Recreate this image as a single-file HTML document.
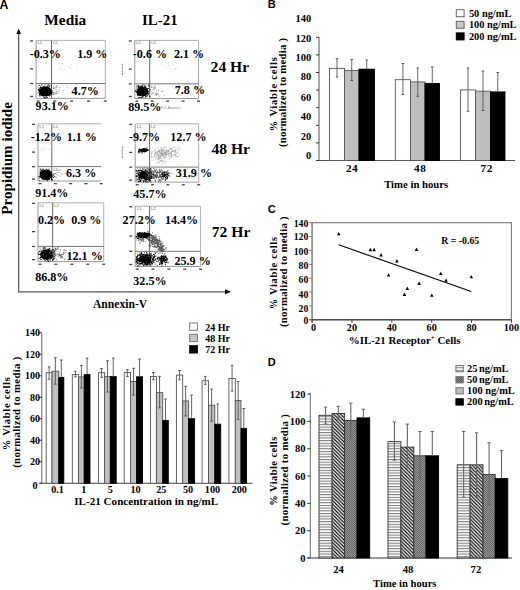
<!DOCTYPE html>
<html><head><meta charset="utf-8"><style>
html,body{margin:0;padding:0;background:#fff;}
svg{display:block;}
</style></head><body>
<svg width="520" height="590" viewBox="0 0 520 590">
<defs>
<filter id="blurS" x="-20%" y="-20%" width="140%" height="140%"><feGaussianBlur stdDeviation="0.35"/></filter>
<filter id="blur0" x="-50%" y="-50%" width="200%" height="200%"><feGaussianBlur stdDeviation="0.7"/></filter>
<filter id="blur2" x="-50%" y="-50%" width="200%" height="200%"><feGaussianBlur stdDeviation="2.2"/></filter>
<pattern id="hstripe" width="4" height="2.7" patternUnits="userSpaceOnUse"><rect width="4" height="2.7" fill="#fff"/><rect y="0" width="4" height="1.1" fill="#808080"/></pattern>
<pattern id="diag" width="3.5" height="3.5" patternUnits="userSpaceOnUse"><rect width="3.5" height="3.5" fill="#fff"/><path d="M-1 -1 L4.5 4.5 M-1 2.5 L1 4.5 M2.5 -1 L4.5 1" stroke="#000" stroke-width="1.15"/></pattern>
<pattern id="xhatch" width="2" height="2" patternUnits="userSpaceOnUse"><rect width="2" height="2" fill="#959595"/><rect width="1" height="1" fill="#666"/><rect x="1" y="1" width="1" height="1" fill="#666"/></pattern>
<pattern id="xhatch2" width="2" height="2" patternUnits="userSpaceOnUse"><rect width="2" height="2" fill="#888"/><rect width="1" height="1" fill="#555"/><rect x="1" y="1" width="1" height="1" fill="#555"/></pattern>
</defs>
<rect width="520" height="590" fill="#fff"/>
<text x="-0.4" y="8.6" style="font-family:'Liberation Sans',sans-serif;font-weight:bold;font-size:12.3px" text-anchor="start" fill="#000" >A</text>
<text x="267.7" y="8.2" style="font-family:'Liberation Sans',sans-serif;font-weight:bold;font-size:11.1px" text-anchor="start" fill="#000" >B</text>
<text x="267.7" y="213.2" style="font-family:'Liberation Sans',sans-serif;font-weight:bold;font-size:11.1px" text-anchor="start" fill="#000" >C</text>
<text x="267.7" y="366.2" style="font-family:'Liberation Sans',sans-serif;font-weight:bold;font-size:11.1px" text-anchor="start" fill="#000" >D</text>
<text x="44.3" y="25" style="font-family:'Liberation Serif',serif;font-weight:bold;font-size:15.4px" text-anchor="start" fill="#000" >Media</text>
<text x="142.0" y="25" style="font-family:'Liberation Serif',serif;font-weight:bold;font-size:14.9px" text-anchor="start" fill="#000" >IL-21</text>
<text x="210.6" y="71.9" style="font-family:'Liberation Serif',serif;font-weight:bold;font-size:15.6px" text-anchor="start" fill="#000" >24 Hr</text>
<text x="211.4" y="154.4" style="font-family:'Liberation Serif',serif;font-weight:bold;font-size:15.6px" text-anchor="start" fill="#000" >48 Hr</text>
<text x="211.8" y="237.4" style="font-family:'Liberation Serif',serif;font-weight:bold;font-size:15.6px" text-anchor="start" fill="#000" >72 Hr</text>
<line x1="18.7" y1="33" x2="18.7" y2="292.3" stroke="#555" stroke-width="1.2" />
<path d="M18.7 28.5 L16.4 34 L21 34 Z" fill="#000"/>
<line x1="18.2" y1="291.8" x2="226" y2="291.8" stroke="#555" stroke-width="1.2" />
<path d="M231 291.8 L225 289.3 L225 294.3 Z" fill="#000"/>
<text transform="translate(11.8,158.4) rotate(-90)" style="font-family:'Liberation Serif',serif;font-weight:bold;font-size:15.1px" text-anchor="middle">Propidium iodide</text>
<text x="93.0" y="307.6" style="font-family:'Liberation Serif',serif;font-weight:bold;font-size:11.6px" text-anchor="start" fill="#000" >Annexin-V</text>
<line x1="36.1" y1="40.4" x2="105.3" y2="40.4" stroke="#b0b0b0" stroke-width="1" />
<line x1="105.3" y1="40.4" x2="105.3" y2="98.4" stroke="#b0b0b0" stroke-width="1" />
<line x1="36.1" y1="98.4" x2="105.3" y2="98.4" stroke="#999" stroke-width="1" />
<line x1="36.1" y1="40.4" x2="36.1" y2="98.4" stroke="#999" stroke-width="1" />
<line x1="51.5" y1="40.4" x2="51.5" y2="98.4" stroke="#666" stroke-width="1" />
<line x1="36.1" y1="83.5" x2="105.3" y2="83.5" stroke="#777" stroke-width="1" />
<rect x="30.1" y="40.3" width="3" height="1.3" fill="#444"/>
<rect x="30.1" y="68.24600000000001" width="3" height="1.3" fill="#444"/>
<rect x="30.1" y="82.9" width="3" height="1.3" fill="#444"/>
<rect x="30.1" y="95.80000000000001" width="3" height="1.3" fill="#444"/>
<rect x="36.6" y="100.4" width="3" height="1.3" fill="#444"/>
<rect x="53.4" y="100.4" width="3" height="1.3" fill="#444"/>
<rect x="70.19999999999999" y="100.4" width="3" height="1.3" fill="#444"/>
<rect x="87.0" y="100.4" width="3" height="1.3" fill="#444"/>
<rect x="103.79999999999998" y="100.4" width="3" height="1.3" fill="#444"/>
<text x="37.6" y="44.4" style="font-family:'Liberation Sans';font-size:4px" fill="#555">L1</text>
<text x="53.0" y="44.4" style="font-family:'Liberation Sans';font-size:4px" fill="#555">L2</text>
<text x="37.6" y="87.5" style="font-family:'Liberation Sans';font-size:4px" fill="#555">L3</text>
<text x="53.0" y="87.5" style="font-family:'Liberation Sans';font-size:4px" fill="#555">L4</text>
<ellipse cx="45.4" cy="91.5" rx="6.4" ry="5.0" fill="#000" opacity="1.0" filter="url(#blur0)"/>
<path d="M44.6 92.8h.01M44.7 90.7h.01M42.5 91.0h.01M48.8 92.6h.01M48.6 92.1h.01M46.6 92.0h.01M40.2 93.6h.01M47.0 92.7h.01M40.2 87.1h.01M42.6 90.3h.01M46.3 91.4h.01M47.0 89.9h.01M46.4 92.5h.01M43.4 95.8h.01M47.1 94.5h.01M43.5 89.7h.01M44.3 91.2h.01M47.4 92.1h.01M44.0 89.1h.01M43.8 94.6h.01M42.9 92.1h.01M46.7 87.8h.01M45.6 94.8h.01M39.2 90.7h.01M45.1 89.5h.01M46.9 91.3h.01M40.9 93.6h.01M47.5 93.9h.01M49.9 92.4h.01M45.8 88.3h.01M47.3 90.0h.01M44.0 88.3h.01M42.4 90.2h.01M49.4 86.4h.01M40.9 92.1h.01M49.9 92.9h.01M39.5 85.2h.01M46.5 89.7h.01M41.9 93.9h.01M48.8 91.9h.01M46.2 92.6h.01M50.3 93.0h.01M47.0 92.9h.01M40.5 94.7h.01M48.4 92.8h.01M39.3 89.9h.01M48.0 87.0h.01M44.8 94.0h.01M41.3 95.5h.01M47.1 91.1h.01M46.4 93.1h.01M45.8 94.4h.01M43.3 90.5h.01M48.6 91.6h.01M42.7 93.9h.01M49.9 90.4h.01M41.1 91.2h.01M44.9 90.8h.01M49.8 88.9h.01M49.3 88.3h.01M43.0 93.1h.01M48.9 93.6h.01M46.5 91.9h.01M45.9 92.9h.01M44.9 92.2h.01M47.2 91.5h.01M47.8 92.9h.01M51.6 92.3h.01M44.1 90.6h.01M45.4 93.8h.01M44.4 92.5h.01M51.1 85.1h.01M41.9 92.1h.01M46.6 92.1h.01M44.1 93.1h.01M46.3 90.2h.01M52.9 92.4h.01M43.7 91.3h.01M44.7 91.3h.01M48.5 88.6h.01M45.2 93.9h.01M48.1 95.2h.01M40.1 90.6h.01M44.3 93.1h.01M48.8 84.8h.01M48.8 87.9h.01M47.5 87.8h.01M45.9 94.5h.01M44.9 92.0h.01M47.9 91.9h.01M45.1 95.3h.01M48.7 90.8h.01M53.9 88.6h.01M48.2 90.8h.01M45.8 93.3h.01M46.1 93.1h.01M40.7 87.7h.01M47.3 89.1h.01M42.2 87.8h.01M49.3 93.4h.01M50.0 89.2h.01M45.4 88.6h.01M47.8 95.5h.01M42.6 95.4h.01M48.5 91.1h.01M39.3 95.0h.01M45.1 90.0h.01M46.6 92.5h.01M50.0 88.9h.01M48.9 95.2h.01M49.9 91.0h.01M43.1 94.0h.01M45.8 91.8h.01M49.8 90.8h.01M38.3 90.5h.01M39.7 93.5h.01M46.4 90.0h.01M45.4 93.6h.01M45.6 94.8h.01M45.2 94.1h.01M50.0 95.5h.01M43.3 93.7h.01M39.6 88.8h.01M39.3 94.2h.01M41.6 91.5h.01M44.8 91.4h.01M43.6 92.1h.01M51.0 91.6h.01M47.0 94.0h.01M44.8 88.4h.01M43.7 94.2h.01M40.3 90.0h.01M48.5 93.5h.01M45.4 93.5h.01M45.9 88.6h.01M40.6 89.9h.01M48.3 90.1h.01M42.6 89.6h.01M40.7 91.2h.01M41.7 92.4h.01M38.1 92.3h.01M43.4 86.6h.01M47.6 90.8h.01M38.5 89.3h.01M46.3 90.4h.01M47.8 93.4h.01M47.5 92.3h.01M49.5 93.1h.01M46.8 86.3h.01M48.2 94.8h.01M44.5 90.3h.01M51.4 87.1h.01M46.9 97.6h.01M42.5 93.2h.01M51.2 91.2h.01M47.1 93.8h.01M42.6 91.3h.01M46.3 93.6h.01M45.3 91.0h.01M42.3 90.6h.01M48.2 91.8h.01M42.8 89.4h.01M53.7 94.3h.01M47.4 85.0h.01M47.3 92.7h.01M50.6 92.6h.01M45.2 92.8h.01M39.4 94.1h.01M46.4 89.7h.01M49.5 96.0h.01M41.1 89.8h.01M46.3 92.0h.01M44.2 89.1h.01M52.0 94.1h.01M41.7 88.1h.01M50.7 94.0h.01M51.0 93.5h.01M42.7 92.2h.01M38.7 89.6h.01M45.2 92.8h.01M43.1 91.2h.01M46.8 92.4h.01M47.4 92.0h.01M44.4 93.5h.01M45.6 89.4h.01M43.5 91.5h.01M45.1 91.9h.01M45.4 91.9h.01M45.0 88.4h.01M46.7 94.1h.01M46.7 91.0h.01M46.8 89.1h.01M39.5 91.6h.01M42.5 93.3h.01M42.0 84.9h.01M42.2 95.4h.01M44.2 88.1h.01M43.0 92.8h.01M46.9 91.9h.01M50.0 93.3h.01M45.3 93.0h.01M50.5 93.9h.01M48.6 88.8h.01M44.9 93.3h.01M44.5 94.2h.01M47.2 93.8h.01M44.7 97.9h.01M49.2 91.0h.01M45.7 98.0h.01M44.3 93.7h.01M48.4 91.5h.01M41.8 92.0h.01M46.5 94.3h.01M47.8 91.6h.01M48.0 92.8h.01M46.0 91.6h.01M44.6 93.2h.01M42.1 89.9h.01M45.4 87.8h.01M44.0 86.5h.01M43.3 92.9h.01M47.2 91.4h.01M44.7 88.0h.01M51.1 92.8h.01M48.8 89.3h.01M44.8 87.0h.01M47.8 93.8h.01M39.5 91.4h.01M47.4 87.1h.01M39.7 88.8h.01M43.4 88.0h.01M45.5 92.1h.01M47.4 93.3h.01M50.1 94.4h.01M41.3 90.2h.01M42.1 88.8h.01M45.1 91.5h.01M46.9 87.5h.01M41.6 91.4h.01M44.8 90.7h.01M45.2 89.6h.01M47.6 92.4h.01M45.1 89.8h.01M44.9 84.7h.01M42.4 91.6h.01M40.7 92.0h.01M45.9 88.1h.01M44.6 90.7h.01M46.8 93.0h.01M45.3 89.4h.01M45.0 91.3h.01M47.7 92.2h.01M43.2 88.1h.01M44.2 89.6h.01M42.0 91.2h.01M43.9 91.8h.01M47.0 90.5h.01M52.6 90.7h.01M48.8 91.8h.01M48.9 85.6h.01M43.1 92.1h.01M47.3 97.3h.01M46.4 94.7h.01M47.8 93.9h.01M47.0 91.1h.01M47.0 88.8h.01M49.1 89.0h.01M46.2 96.8h.01M44.7 91.5h.01M49.0 91.6h.01M42.9 92.1h.01M47.2 93.3h.01M43.0 95.9h.01M50.6 91.5h.01M46.2 90.4h.01M49.8 89.7h.01M47.5 90.3h.01M43.2 93.3h.01M49.5 91.5h.01M43.3 93.5h.01M45.2 92.3h.01M50.1 94.3h.01M43.8 97.2h.01M45.4 93.5h.01M43.4 91.4h.01M40.0 96.0h.01M49.6 88.5h.01M40.7 87.4h.01M49.0 90.4h.01M45.2 90.7h.01M45.0 88.8h.01M45.5 87.9h.01M45.2 92.3h.01M46.8 90.9h.01M42.6 91.9h.01M43.9 95.4h.01M47.8 91.2h.01M43.9 89.7h.01M42.5 90.6h.01" stroke="#000" stroke-width="1.1" stroke-linecap="round" fill="none" filter="url(#blurS)"/>
<path d="M57.2 93.3h.01M58.3 97.2h.01M53.2 92.0h.01M67.2 87.3h.01M53.9 92.4h.01M56.6 93.0h.01M55.0 92.9h.01M56.2 93.9h.01M56.0 89.4h.01M53.4 93.6h.01M59.0 92.8h.01M58.0 91.7h.01M57.8 90.7h.01M55.6 93.9h.01M52.5 93.6h.01M63.5 90.6h.01M56.6 91.6h.01M62.2 92.8h.01M59.6 90.3h.01M55.9 92.0h.01M59.6 87.6h.01" stroke="#999" stroke-width="1.1" stroke-linecap="round" fill="none" filter="url(#blurS)"/>
<circle cx="77.5" cy="64.0" r="0.45" fill="#aaa"/>
<circle cx="62.0" cy="63.2" r="0.45" fill="#aaa"/>
<circle cx="69.4" cy="67.5" r="0.45" fill="#aaa"/>
<circle cx="76.9" cy="67.8" r="0.45" fill="#aaa"/>
<circle cx="71.7" cy="68.1" r="0.45" fill="#aaa"/>
<circle cx="68.2" cy="66.4" r="0.45" fill="#aaa"/>
<circle cx="60.7" cy="68.3" r="0.45" fill="#aaa"/>
<circle cx="64.2" cy="69.4" r="0.45" fill="#aaa"/>
<circle cx="71.6" cy="64.4" r="0.45" fill="#aaa"/>
<circle cx="62.3" cy="64.0" r="0.45" fill="#aaa"/>
<circle cx="46.4" cy="63.4" r="0.45" fill="#aaa"/>
<circle cx="41.1" cy="62.1" r="0.45" fill="#aaa"/>
<circle cx="45.2" cy="63.2" r="0.45" fill="#aaa"/>
<circle cx="43.9" cy="62.4" r="0.45" fill="#aaa"/>
<circle cx="46.0" cy="62.0" r="0.45" fill="#aaa"/>
<line x1="134.8" y1="40.4" x2="198.5" y2="40.4" stroke="#b0b0b0" stroke-width="1" />
<line x1="198.5" y1="40.4" x2="198.5" y2="98.5" stroke="#b0b0b0" stroke-width="1" />
<line x1="134.8" y1="98.5" x2="198.5" y2="98.5" stroke="#999" stroke-width="1" />
<line x1="134.8" y1="40.4" x2="134.8" y2="98.5" stroke="#999" stroke-width="1" />
<line x1="149.7" y1="40.4" x2="149.7" y2="98.5" stroke="#666" stroke-width="1" />
<line x1="134.8" y1="83.8" x2="198.5" y2="83.8" stroke="#777" stroke-width="1" />
<rect x="128.8" y="40.3" width="3" height="1.3" fill="#444"/>
<rect x="128.8" y="68.444" width="3" height="1.3" fill="#444"/>
<rect x="128.8" y="83.2" width="3" height="1.3" fill="#444"/>
<rect x="128.8" y="95.9" width="3" height="1.3" fill="#444"/>
<rect x="135.3" y="100.5" width="3" height="1.3" fill="#444"/>
<rect x="150.72500000000002" y="100.5" width="3" height="1.3" fill="#444"/>
<rect x="166.15" y="100.5" width="3" height="1.3" fill="#444"/>
<rect x="181.575" y="100.5" width="3" height="1.3" fill="#444"/>
<rect x="197.0" y="100.5" width="3" height="1.3" fill="#444"/>
<text x="136.3" y="44.4" style="font-family:'Liberation Sans';font-size:4px" fill="#555">L1</text>
<text x="151.2" y="44.4" style="font-family:'Liberation Sans';font-size:4px" fill="#555">L2</text>
<text x="136.3" y="87.8" style="font-family:'Liberation Sans';font-size:4px" fill="#555">L3</text>
<text x="151.2" y="87.8" style="font-family:'Liberation Sans';font-size:4px" fill="#555">L4</text>
<ellipse cx="142.4" cy="91.6" rx="6.0" ry="4.9" fill="#000" opacity="1.0" filter="url(#blur0)"/>
<path d="M141.3 94.2h.01M146.6 90.7h.01M144.9 89.7h.01M142.6 93.5h.01M146.9 90.6h.01M142.2 92.1h.01M137.9 91.6h.01M140.4 92.5h.01M139.0 86.7h.01M142.5 92.3h.01M140.8 93.8h.01M141.6 90.1h.01M143.8 87.7h.01M140.4 91.5h.01M144.9 91.2h.01M143.3 90.0h.01M143.3 95.8h.01M140.3 97.5h.01M140.5 91.6h.01M142.9 94.2h.01M138.7 86.3h.01M144.2 93.6h.01M143.0 92.2h.01M145.2 92.5h.01M147.4 88.5h.01M144.8 90.7h.01M145.2 97.0h.01M142.4 91.0h.01M140.9 89.5h.01M140.5 93.2h.01M142.5 91.8h.01M141.9 93.9h.01M143.9 91.2h.01M144.4 91.2h.01M138.9 95.2h.01M143.8 89.2h.01M145.6 92.5h.01M137.7 95.6h.01M143.4 93.8h.01M143.0 91.2h.01M137.8 94.0h.01M142.5 90.9h.01M143.5 91.8h.01M144.4 90.7h.01M142.3 86.3h.01M141.1 93.3h.01M146.4 90.7h.01M142.0 95.6h.01M141.4 93.4h.01M147.4 91.7h.01M146.1 89.8h.01M143.0 91.4h.01M142.7 94.4h.01M149.6 89.9h.01M140.7 92.8h.01M139.2 92.8h.01M144.1 90.9h.01M144.0 87.7h.01M144.7 87.7h.01M140.3 90.2h.01M141.2 93.7h.01M142.6 90.6h.01M144.0 95.6h.01M142.4 92.5h.01M146.1 92.3h.01M138.5 97.8h.01M149.0 86.6h.01M142.3 92.6h.01M145.3 93.3h.01M141.6 89.0h.01M142.7 94.2h.01M139.1 89.0h.01M142.3 86.8h.01M141.6 90.5h.01M143.8 89.8h.01M139.8 90.6h.01M142.3 89.9h.01M142.4 93.5h.01M146.0 95.9h.01M140.0 90.6h.01M140.2 91.5h.01M144.0 88.2h.01M143.8 91.5h.01M136.9 92.3h.01M146.0 86.9h.01M144.8 92.1h.01M143.8 92.7h.01M146.3 91.0h.01M145.0 90.6h.01M144.6 89.6h.01M142.1 95.9h.01M143.7 91.2h.01M139.0 89.6h.01M143.0 93.9h.01M143.7 92.9h.01M142.3 95.0h.01M141.2 90.2h.01M145.1 91.8h.01M141.6 90.2h.01M141.6 93.2h.01M143.5 88.6h.01M143.7 92.0h.01M139.4 93.5h.01M141.6 90.8h.01M144.8 94.9h.01M140.3 92.7h.01M139.8 97.4h.01M140.9 94.6h.01M140.5 93.6h.01M149.1 85.2h.01M141.1 92.9h.01M142.1 89.9h.01M148.9 91.8h.01M137.5 93.7h.01M137.2 94.5h.01M140.7 92.0h.01M146.2 91.9h.01M138.2 87.4h.01M145.9 93.5h.01M140.0 93.7h.01M143.9 93.2h.01M135.6 90.8h.01M145.1 93.4h.01M145.0 85.5h.01M142.9 92.8h.01M150.1 89.2h.01M141.4 91.7h.01M145.1 90.5h.01M145.8 89.6h.01M143.2 90.3h.01M142.9 89.9h.01M137.6 94.3h.01M143.3 90.2h.01M143.0 94.1h.01M139.5 91.3h.01M144.0 92.9h.01M141.4 86.3h.01M146.1 92.4h.01M142.4 90.9h.01M143.2 90.5h.01M139.3 89.8h.01M140.6 90.1h.01M138.9 93.2h.01M138.5 93.2h.01M139.4 92.5h.01M146.5 92.1h.01M140.2 91.7h.01M142.8 87.3h.01M140.6 92.0h.01M141.0 91.8h.01M144.6 93.5h.01M145.1 93.1h.01M141.5 91.6h.01M141.6 90.8h.01M141.9 87.3h.01M141.4 91.5h.01M139.5 91.5h.01M143.9 91.2h.01M148.6 85.1h.01M141.8 87.0h.01M144.0 90.8h.01M144.1 86.0h.01M145.0 92.5h.01M142.5 90.1h.01M144.3 90.4h.01M143.1 90.3h.01M135.7 91.5h.01M143.0 93.5h.01M139.8 91.5h.01M144.3 92.0h.01M146.1 96.6h.01M139.7 86.8h.01M145.0 95.4h.01M145.2 93.6h.01M140.5 89.8h.01M145.1 89.3h.01M137.0 89.1h.01M149.9 96.4h.01M140.3 89.8h.01M143.1 89.7h.01M146.3 91.4h.01M139.1 94.9h.01M140.7 92.2h.01M142.4 90.8h.01M143.4 89.9h.01M136.9 86.1h.01M138.6 89.7h.01M142.3 91.7h.01M144.1 91.9h.01M140.0 89.8h.01M136.0 91.2h.01M143.9 92.9h.01M142.0 91.2h.01M145.2 91.6h.01M144.6 93.1h.01M143.0 94.9h.01M140.7 90.7h.01M140.0 89.6h.01M147.1 96.0h.01M142.5 93.0h.01M145.9 93.6h.01M146.0 88.4h.01M140.5 92.7h.01M146.7 91.9h.01M139.8 90.7h.01M140.4 89.5h.01M146.9 90.0h.01M142.5 97.0h.01M146.0 92.4h.01M140.6 92.6h.01M147.3 93.2h.01M146.2 91.8h.01M143.9 91.1h.01M143.7 94.9h.01M138.1 91.4h.01M143.1 90.2h.01M141.5 93.6h.01M148.4 93.2h.01M143.4 87.7h.01M148.2 91.8h.01M142.3 88.8h.01M142.2 88.9h.01M142.6 92.8h.01M142.5 92.3h.01M139.8 95.2h.01M140.4 87.1h.01M141.8 89.7h.01M139.4 90.7h.01M143.3 88.6h.01M142.0 95.2h.01M144.4 91.2h.01M142.8 91.3h.01M142.3 93.4h.01M142.1 85.6h.01M142.3 89.4h.01M144.4 90.1h.01M142.8 97.0h.01M139.3 88.8h.01M138.2 85.6h.01M136.8 92.5h.01M140.5 86.9h.01M138.0 93.1h.01M140.1 90.7h.01M143.4 95.0h.01M148.2 94.2h.01M142.8 92.1h.01M147.8 95.2h.01M141.5 92.7h.01M143.3 91.7h.01M140.9 88.3h.01M140.8 87.7h.01M146.1 92.9h.01M138.8 95.1h.01M145.1 86.8h.01M147.9 93.6h.01M148.6 88.5h.01M144.0 92.7h.01M143.0 92.0h.01M145.6 87.9h.01M138.7 88.1h.01M140.7 90.1h.01M143.5 92.3h.01M142.5 89.9h.01M141.1 94.0h.01M144.7 91.9h.01M141.4 95.5h.01M140.6 93.2h.01M145.9 90.9h.01M144.9 88.8h.01M145.4 92.1h.01M137.6 93.3h.01M139.7 94.8h.01M140.4 91.2h.01M143.2 90.8h.01M143.2 90.2h.01M144.4 91.6h.01M143.0 84.7h.01M145.9 91.7h.01M137.1 91.8h.01M143.8 94.3h.01M139.2 95.5h.01M141.9 97.6h.01M142.0 93.3h.01M141.3 88.8h.01M145.7 93.9h.01M147.0 93.7h.01M140.7 87.4h.01M140.4 89.9h.01M140.0 93.1h.01M143.4 90.9h.01M142.9 91.2h.01M143.0 93.5h.01M145.3 89.9h.01M137.9 95.2h.01M142.7 94.4h.01" stroke="#000" stroke-width="1.1" stroke-linecap="round" fill="none" filter="url(#blurS)"/>
<path d="M154.1 88.4h.01M151.4 93.8h.01M159.4 96.0h.01M149.7 88.5h.01M156.6 94.4h.01M155.0 88.7h.01M157.9 94.0h.01M156.8 90.8h.01M155.5 94.0h.01M151.2 87.4h.01M155.6 93.2h.01M154.1 94.2h.01M151.1 91.8h.01M152.5 93.4h.01M162.0 91.4h.01M164.3 95.8h.01M158.0 93.5h.01M162.9 91.5h.01M153.4 89.3h.01M156.4 95.4h.01M156.7 93.1h.01M153.0 92.4h.01M152.0 89.2h.01M150.2 89.9h.01M158.3 94.6h.01M158.4 90.6h.01" stroke="#999" stroke-width="1.1" stroke-linecap="round" fill="none" filter="url(#blurS)"/>
<circle cx="168.4" cy="62.7" r="0.45" fill="#aaa"/>
<circle cx="174.4" cy="70.6" r="0.45" fill="#aaa"/>
<circle cx="175.5" cy="68.4" r="0.45" fill="#aaa"/>
<circle cx="177.0" cy="68.2" r="0.45" fill="#aaa"/>
<circle cx="172.8" cy="65.4" r="0.45" fill="#aaa"/>
<circle cx="166.3" cy="67.5" r="0.45" fill="#aaa"/>
<circle cx="162.0" cy="65.0" r="0.45" fill="#aaa"/>
<circle cx="175.6" cy="68.6" r="0.45" fill="#aaa"/>
<circle cx="172.6" cy="63.0" r="0.45" fill="#aaa"/>
<circle cx="168.5" cy="65.5" r="0.45" fill="#aaa"/>
<line x1="38" y1="123.8" x2="101.2" y2="123.8" stroke="#b0b0b0" stroke-width="1" />
<line x1="38" y1="181" x2="101.2" y2="181" stroke="#999" stroke-width="1" />
<line x1="38" y1="123.8" x2="38" y2="181" stroke="#999" stroke-width="1" />
<line x1="51.8" y1="123.8" x2="51.8" y2="181" stroke="#666" stroke-width="1" />
<line x1="38" y1="166.6" x2="101.2" y2="166.6" stroke="#777" stroke-width="1" />
<rect x="32" y="123.7" width="3" height="1.3" fill="#444"/>
<rect x="32" y="151.448" width="3" height="1.3" fill="#444"/>
<rect x="32" y="166.0" width="3" height="1.3" fill="#444"/>
<rect x="32" y="178.4" width="3" height="1.3" fill="#444"/>
<rect x="38.5" y="183" width="3" height="1.3" fill="#444"/>
<rect x="53.8" y="183" width="3" height="1.3" fill="#444"/>
<rect x="69.1" y="183" width="3" height="1.3" fill="#444"/>
<rect x="84.4" y="183" width="3" height="1.3" fill="#444"/>
<rect x="99.7" y="183" width="3" height="1.3" fill="#444"/>
<text x="39.5" y="127.8" style="font-family:'Liberation Sans';font-size:4px" fill="#555">L1</text>
<text x="53.3" y="127.8" style="font-family:'Liberation Sans';font-size:4px" fill="#555">L2</text>
<text x="39.5" y="170.6" style="font-family:'Liberation Sans';font-size:4px" fill="#555">L3</text>
<text x="53.3" y="170.6" style="font-family:'Liberation Sans';font-size:4px" fill="#555">L4</text>
<ellipse cx="45.9" cy="174.9" rx="6.3" ry="5.0" fill="#000" opacity="1.0" filter="url(#blur0)"/>
<path d="M43.7 173.1h.01M42.8 169.8h.01M47.7 178.2h.01M46.4 172.5h.01M49.5 175.6h.01M48.7 178.6h.01M49.3 173.8h.01M49.1 176.8h.01M41.3 173.9h.01M41.6 174.6h.01M47.6 172.2h.01M39.7 178.1h.01M47.0 178.6h.01M41.9 177.6h.01M52.1 179.9h.01M45.3 175.6h.01M45.4 177.4h.01M49.0 175.1h.01M41.8 176.8h.01M44.5 176.5h.01M46.7 179.0h.01M49.3 173.8h.01M46.9 179.3h.01M44.3 176.0h.01M49.5 178.0h.01M47.5 171.6h.01M42.1 175.5h.01M43.3 177.7h.01M48.2 170.7h.01M43.4 175.3h.01M44.4 174.5h.01M47.3 172.9h.01M47.3 173.3h.01M44.3 176.2h.01M44.2 175.6h.01M50.7 175.0h.01M45.5 176.7h.01M44.8 177.6h.01M42.1 176.4h.01M44.4 172.9h.01M51.2 172.8h.01M51.2 176.5h.01M50.3 172.5h.01M49.5 178.5h.01M45.6 174.6h.01M53.3 175.3h.01M44.6 173.3h.01M47.2 175.7h.01M46.4 179.2h.01M44.9 176.1h.01M50.3 172.4h.01M49.0 179.5h.01M41.8 172.2h.01M42.8 170.3h.01M47.3 170.3h.01M47.4 178.5h.01M41.1 174.1h.01M40.1 176.8h.01M43.7 174.2h.01M46.1 176.3h.01M44.9 174.9h.01M44.3 175.2h.01M42.4 175.1h.01M40.1 173.7h.01M51.6 175.1h.01M42.1 175.5h.01M43.0 170.8h.01M43.7 176.7h.01M47.1 174.7h.01M43.1 172.2h.01M49.9 175.5h.01M43.0 169.6h.01M42.5 174.7h.01M46.5 174.5h.01M45.1 171.5h.01M42.7 179.1h.01M43.6 177.0h.01M40.8 174.2h.01M46.7 177.5h.01M42.5 176.4h.01M47.1 173.1h.01M47.3 172.7h.01M43.5 174.9h.01M42.9 171.2h.01M44.6 176.8h.01M44.7 178.1h.01M42.4 171.6h.01M50.6 175.9h.01M48.7 172.8h.01M48.3 175.5h.01M47.8 175.0h.01M49.5 173.3h.01M43.0 171.2h.01M49.4 173.1h.01M42.8 172.6h.01M44.6 171.7h.01M45.0 173.3h.01M44.2 172.5h.01M46.0 173.7h.01M46.2 175.5h.01M46.9 169.4h.01M44.3 172.9h.01M48.2 171.0h.01M43.8 174.2h.01M44.9 177.4h.01M44.6 177.3h.01M41.5 170.4h.01M49.6 176.0h.01M47.4 175.2h.01M47.4 171.9h.01M48.7 173.6h.01M48.9 175.1h.01M40.0 171.7h.01M49.3 174.6h.01M44.7 175.5h.01M44.6 173.5h.01M46.2 175.3h.01M50.5 175.0h.01M51.5 179.4h.01M51.0 177.6h.01M46.3 175.2h.01M45.5 173.1h.01M45.7 173.3h.01M50.8 176.2h.01M44.6 170.1h.01M45.7 173.9h.01M42.6 172.1h.01M39.1 176.3h.01M45.8 174.5h.01M50.2 175.2h.01M46.4 174.0h.01M44.1 178.6h.01M48.9 179.2h.01M44.9 175.0h.01M43.3 177.3h.01M41.7 176.3h.01M49.2 178.4h.01M43.1 177.6h.01M43.8 173.0h.01M41.9 177.8h.01M50.8 173.4h.01M43.6 174.1h.01M53.4 177.4h.01M44.3 170.4h.01M43.9 177.9h.01M51.5 174.2h.01M43.8 173.6h.01M40.2 177.2h.01M42.6 177.6h.01M40.8 171.7h.01M46.8 173.0h.01M48.2 174.9h.01M42.4 176.5h.01M48.4 170.1h.01M51.4 176.1h.01M48.2 170.2h.01M43.7 174.0h.01M49.1 171.3h.01M43.2 169.8h.01M45.2 175.8h.01M40.8 173.4h.01M47.4 178.9h.01M47.9 174.1h.01M42.4 172.6h.01M43.9 175.3h.01M45.8 179.1h.01M46.8 172.2h.01M50.5 177.3h.01M46.2 173.1h.01M40.3 172.3h.01M48.6 172.9h.01M41.9 175.4h.01M46.6 176.4h.01M47.9 178.4h.01M43.4 177.3h.01M42.9 176.6h.01M46.4 175.5h.01M48.8 174.9h.01M49.2 177.1h.01M46.3 173.5h.01M43.6 173.6h.01M45.3 174.8h.01M54.8 176.5h.01M48.2 172.7h.01M43.8 174.1h.01M46.5 172.3h.01M50.7 173.5h.01M49.1 169.1h.01M45.9 175.6h.01M46.5 176.4h.01M46.7 175.3h.01M40.2 173.1h.01M38.9 176.5h.01M46.8 174.4h.01M43.4 173.4h.01M51.4 179.2h.01M45.7 178.1h.01M41.1 170.1h.01M44.5 172.7h.01M44.2 175.4h.01M55.0 173.2h.01M46.0 175.6h.01M45.8 177.2h.01M51.2 171.8h.01M46.4 174.2h.01M47.0 171.1h.01M40.6 169.1h.01M47.5 175.4h.01M46.1 169.0h.01M44.8 173.0h.01M41.7 172.6h.01M48.0 176.3h.01M45.8 176.2h.01M44.1 175.1h.01M46.0 176.3h.01M45.7 174.5h.01M45.5 173.3h.01M52.6 176.2h.01M47.2 180.6h.01M50.1 171.0h.01M48.0 177.0h.01M51.6 178.2h.01M48.2 172.0h.01M43.3 175.6h.01M47.4 172.3h.01M44.7 173.9h.01M46.1 175.7h.01M45.0 171.8h.01M49.6 178.9h.01M45.6 177.5h.01M47.2 176.5h.01M47.3 173.0h.01M47.6 177.4h.01M43.2 179.8h.01M52.2 179.5h.01M51.9 176.8h.01M44.9 173.4h.01M43.5 175.2h.01M45.8 176.6h.01M39.8 180.7h.01M52.7 174.8h.01M47.9 176.1h.01M46.7 174.4h.01M45.5 172.8h.01M46.4 174.8h.01M46.9 172.8h.01M46.0 175.0h.01M47.7 172.2h.01M47.2 177.4h.01M47.7 174.0h.01M44.4 174.3h.01M48.1 178.8h.01M45.4 173.3h.01M47.0 175.4h.01M43.2 173.1h.01M45.6 176.6h.01M42.3 172.4h.01M47.4 171.8h.01M46.2 175.8h.01M45.6 172.4h.01M45.7 174.1h.01M46.9 172.8h.01M49.2 170.7h.01M45.4 174.9h.01M48.8 173.4h.01M47.5 173.5h.01M48.1 179.2h.01M44.7 176.0h.01M43.1 177.3h.01M49.5 175.0h.01M42.5 175.9h.01M49.3 177.6h.01M48.3 170.3h.01M43.9 178.5h.01M42.2 177.7h.01M51.5 176.8h.01M49.3 174.1h.01M42.2 174.6h.01M45.3 174.8h.01M48.0 174.5h.01M46.5 176.0h.01M45.9 179.5h.01M47.2 175.1h.01M45.3 173.3h.01M49.9 175.3h.01M42.7 173.5h.01M45.5 173.8h.01M49.2 172.0h.01M47.4 175.3h.01M42.4 175.0h.01M45.6 176.2h.01M44.5 175.7h.01M40.9 172.2h.01M48.3 177.5h.01M45.9 173.4h.01" stroke="#000" stroke-width="1.1" stroke-linecap="round" fill="none" filter="url(#blurS)"/>
<path d="M60.3 169.8h.01M52.8 176.7h.01M58.6 172.4h.01M56.6 172.8h.01M56.2 177.3h.01M59.0 169.8h.01M59.1 170.5h.01M60.6 176.0h.01M65.0 173.5h.01M56.0 177.6h.01M53.4 173.2h.01M54.5 174.8h.01M58.2 175.2h.01M62.8 174.2h.01M61.2 173.6h.01M59.0 170.2h.01M56.8 174.6h.01M54.0 173.5h.01M54.6 173.2h.01M53.8 173.7h.01" stroke="#999" stroke-width="1.1" stroke-linecap="round" fill="none" filter="url(#blurS)"/>
<circle cx="49.5" cy="148.9" r="0.45" fill="#bbb"/>
<circle cx="43.1" cy="149.9" r="0.45" fill="#bbb"/>
<circle cx="41.2" cy="149.8" r="0.45" fill="#bbb"/>
<circle cx="49.6" cy="149.5" r="0.45" fill="#bbb"/>
<circle cx="42.7" cy="149.4" r="0.45" fill="#bbb"/>
<circle cx="45.3" cy="148.4" r="0.45" fill="#bbb"/>
<line x1="135.2" y1="123.8" x2="198.7" y2="123.8" stroke="#b0b0b0" stroke-width="1" />
<line x1="198.7" y1="123.8" x2="198.7" y2="182.1" stroke="#b0b0b0" stroke-width="1" />
<line x1="135.2" y1="182.1" x2="198.7" y2="182.1" stroke="#999" stroke-width="1" />
<line x1="135.2" y1="123.8" x2="135.2" y2="182.1" stroke="#999" stroke-width="1" />
<line x1="149.6" y1="123.8" x2="149.6" y2="182.1" stroke="#666" stroke-width="1" />
<line x1="135.2" y1="167.1" x2="198.7" y2="167.1" stroke="#777" stroke-width="1" />
<rect x="129.2" y="123.7" width="3" height="1.3" fill="#444"/>
<rect x="129.2" y="151.778" width="3" height="1.3" fill="#444"/>
<rect x="129.2" y="166.5" width="3" height="1.3" fill="#444"/>
<rect x="129.2" y="179.5" width="3" height="1.3" fill="#444"/>
<rect x="135.7" y="184.1" width="3" height="1.3" fill="#444"/>
<rect x="151.075" y="184.1" width="3" height="1.3" fill="#444"/>
<rect x="166.45" y="184.1" width="3" height="1.3" fill="#444"/>
<rect x="181.825" y="184.1" width="3" height="1.3" fill="#444"/>
<rect x="197.2" y="184.1" width="3" height="1.3" fill="#444"/>
<text x="136.7" y="127.8" style="font-family:'Liberation Sans';font-size:4px" fill="#555">L1</text>
<text x="151.1" y="127.8" style="font-family:'Liberation Sans';font-size:4px" fill="#555">L2</text>
<text x="136.7" y="171.1" style="font-family:'Liberation Sans';font-size:4px" fill="#555">L3</text>
<text x="151.1" y="171.1" style="font-family:'Liberation Sans';font-size:4px" fill="#555">L4</text>
<ellipse cx="143.6" cy="149.9" rx="4.6" ry="1.5" fill="#000" opacity="1.0" filter="url(#blur0)"/>
<path d="M144.6 150.8h.01M142.9 151.4h.01M143.1 151.1h.01M146.4 151.1h.01M145.5 149.2h.01M140.2 149.8h.01M144.8 151.9h.01M140.4 150.7h.01M141.4 149.7h.01M142.9 151.1h.01M144.2 151.6h.01M141.0 151.3h.01M146.0 150.5h.01M144.8 149.8h.01M140.8 150.0h.01M141.9 153.3h.01M142.3 152.1h.01M144.1 150.7h.01M145.5 149.6h.01M146.0 150.8h.01M139.7 151.0h.01M145.0 150.9h.01M147.7 150.0h.01M144.9 151.1h.01M141.3 151.6h.01M139.8 149.1h.01M145.0 149.3h.01M143.3 148.8h.01M143.8 149.3h.01M144.5 148.9h.01M144.8 150.1h.01M143.8 150.3h.01M143.9 149.1h.01M141.2 149.9h.01M144.7 148.4h.01M141.6 149.8h.01M140.9 150.7h.01M143.2 149.6h.01M141.0 151.2h.01M141.9 151.0h.01M144.8 148.5h.01M140.8 150.4h.01M144.5 151.2h.01M145.7 151.4h.01M142.6 150.2h.01M145.6 150.0h.01M146.3 148.8h.01M145.3 150.2h.01M138.5 151.4h.01M144.4 150.4h.01M140.8 149.9h.01M147.5 149.6h.01M140.5 150.3h.01M142.6 149.5h.01M141.4 151.4h.01M139.8 152.4h.01M142.2 149.3h.01M145.6 151.0h.01M140.9 151.1h.01M138.8 149.5h.01M146.5 150.1h.01M140.2 150.9h.01M146.0 150.4h.01M138.9 150.1h.01M144.7 151.2h.01M148.4 150.1h.01M142.3 150.4h.01M146.7 149.5h.01M147.0 147.7h.01M145.7 149.7h.01M144.8 151.1h.01M140.5 150.3h.01M144.2 151.0h.01M141.2 149.4h.01M138.6 152.9h.01M143.1 150.2h.01M139.7 151.3h.01M142.2 151.8h.01M145.8 150.4h.01M145.5 149.3h.01M142.8 149.8h.01M140.3 150.4h.01M143.2 151.8h.01M141.2 149.9h.01M144.7 150.8h.01M143.7 149.9h.01M144.9 150.8h.01" stroke="#000" stroke-width="1.1" stroke-linecap="round" fill="none" filter="url(#blurS)"/>
<path d="M151.2 151.8h.01M154.7 149.2h.01M166.1 152.7h.01M165.9 150.0h.01M163.5 149.9h.01M167.9 154.4h.01M178.2 156.0h.01M159.0 151.2h.01M158.0 153.4h.01M179.9 154.5h.01M155.3 153.9h.01M165.0 153.3h.01M178.4 150.2h.01M158.6 158.0h.01M167.6 150.3h.01M165.3 155.3h.01M164.0 150.6h.01M159.4 157.8h.01M151.8 153.0h.01M165.2 154.2h.01M162.0 153.9h.01M171.1 152.1h.01M161.6 152.0h.01M157.8 151.9h.01M162.7 153.1h.01M175.0 156.2h.01M161.7 154.2h.01M167.2 154.6h.01M165.2 153.2h.01M161.5 150.3h.01M171.5 156.1h.01M170.0 153.7h.01M167.0 151.2h.01M151.6 154.4h.01M166.5 150.9h.01M157.8 156.1h.01M151.5 157.4h.01M169.8 159.1h.01M159.6 152.4h.01M161.2 152.9h.01M163.4 150.4h.01M173.1 150.3h.01M161.2 154.1h.01M161.0 151.3h.01M167.7 151.5h.01M155.7 152.2h.01M163.4 157.3h.01M156.8 155.2h.01M159.1 151.5h.01M162.5 153.3h.01M171.5 157.4h.01M160.2 156.2h.01M172.5 154.8h.01M159.3 155.0h.01M164.2 153.5h.01M163.0 154.4h.01M173.4 155.7h.01M163.5 155.3h.01M175.9 149.9h.01M176.0 148.8h.01M169.1 154.2h.01M176.1 153.3h.01M161.4 150.3h.01M155.6 154.6h.01M163.2 150.5h.01M169.0 150.4h.01M161.7 151.2h.01M177.4 156.6h.01M163.8 148.1h.01M167.1 152.7h.01M167.6 154.1h.01M162.6 155.1h.01M171.3 153.1h.01M162.0 151.2h.01M170.2 149.4h.01M163.8 150.4h.01M154.5 154.2h.01M164.8 152.6h.01M171.6 148.3h.01M164.5 153.3h.01M171.2 149.5h.01M170.4 153.1h.01M175.2 155.7h.01M169.1 158.5h.01M165.0 151.3h.01M162.4 149.9h.01M164.8 147.2h.01M164.4 153.7h.01M172.4 151.5h.01M175.4 150.7h.01M164.0 147.2h.01M159.3 150.3h.01M175.9 154.0h.01M156.9 154.0h.01M168.5 151.9h.01M165.2 151.7h.01M161.0 147.7h.01M164.3 156.0h.01M175.5 151.7h.01M159.5 151.9h.01M171.6 153.5h.01M160.7 153.5h.01M163.5 153.9h.01M162.0 148.5h.01M165.4 154.6h.01M156.9 152.2h.01M171.4 151.5h.01M160.2 158.0h.01M171.1 155.3h.01M158.1 157.0h.01M152.9 151.1h.01M170.4 156.1h.01M158.2 150.7h.01M166.4 147.2h.01M169.7 154.0h.01M161.7 154.0h.01M170.7 153.3h.01M168.8 156.6h.01M161.5 152.9h.01M161.2 155.3h.01M162.0 153.8h.01M166.0 152.7h.01M177.5 152.3h.01M175.3 154.7h.01M174.6 152.1h.01M171.7 154.5h.01M160.5 153.2h.01M164.1 152.4h.01M174.4 150.6h.01M152.8 147.8h.01M161.7 150.8h.01M165.1 154.0h.01M177.7 153.3h.01M168.4 150.5h.01M169.2 156.2h.01M174.7 147.2h.01M171.4 156.8h.01M171.0 148.5h.01M162.8 154.1h.01M168.0 150.3h.01M158.6 155.1h.01M155.4 156.4h.01M165.1 153.3h.01M155.4 150.9h.01M170.0 148.5h.01M179.9 148.7h.01M156.2 152.6h.01M168.5 154.5h.01M162.3 151.9h.01M163.3 151.0h.01M166.8 152.9h.01M160.5 153.2h.01M164.9 152.3h.01M173.0 147.9h.01M166.8 149.6h.01M162.7 156.5h.01M157.2 152.2h.01M160.7 155.1h.01M157.9 148.0h.01M168.7 151.5h.01M162.7 155.4h.01M158.6 151.5h.01M166.1 153.6h.01M161.3 155.3h.01M178.5 146.8h.01M175.1 151.6h.01M166.0 151.6h.01M160.4 149.1h.01M162.2 156.0h.01M173.2 151.6h.01M161.2 150.6h.01M156.4 157.3h.01M169.8 152.8h.01M161.5 149.8h.01M174.5 154.6h.01M158.1 155.2h.01M157.0 154.2h.01M158.1 151.4h.01M168.6 153.7h.01M172.3 150.3h.01M176.4 156.1h.01M164.9 153.8h.01M159.4 152.1h.01M155.5 152.7h.01M166.4 156.1h.01" stroke="#999" stroke-width="0.9" stroke-linecap="round" fill="none" filter="url(#blurS)"/>
<path d="M163.2 160.5h.01M158.8 157.3h.01M158.9 158.7h.01M153.5 160.4h.01M154.7 156.4h.01M160.1 156.4h.01M165.6 157.7h.01M165.3 161.6h.01M158.3 159.2h.01M164.4 157.0h.01M160.3 156.3h.01M160.2 156.9h.01M160.3 161.1h.01M164.7 158.4h.01M160.7 160.6h.01M159.0 154.7h.01M163.7 155.1h.01M163.1 155.0h.01M166.2 154.8h.01M162.9 162.6h.01M156.8 162.6h.01M157.2 152.6h.01M162.4 160.2h.01M159.3 150.2h.01M159.8 157.1h.01M158.7 157.1h.01M154.0 156.3h.01M166.0 162.8h.01M158.8 155.8h.01M161.3 161.3h.01M162.4 154.4h.01M160.5 158.4h.01M164.8 161.7h.01M161.8 161.7h.01M158.7 162.7h.01M158.6 159.2h.01M163.1 155.2h.01M157.6 152.6h.01M160.6 157.8h.01M158.9 159.5h.01M152.9 157.9h.01M160.3 157.2h.01M162.7 163.4h.01M158.5 155.1h.01M158.0 158.3h.01M162.0 155.4h.01M163.4 154.9h.01M162.8 159.3h.01M161.6 164.6h.01M159.1 157.5h.01M161.6 160.7h.01M155.5 158.8h.01M157.5 159.9h.01M164.6 158.2h.01M159.6 158.6h.01M161.9 158.5h.01M158.7 155.8h.01M159.4 161.7h.01M159.7 162.1h.01M151.4 156.6h.01M160.9 158.0h.01M154.4 156.0h.01M164.2 154.0h.01M156.7 154.6h.01M158.1 160.0h.01M162.0 151.8h.01M164.9 156.2h.01M158.0 163.1h.01M159.7 154.2h.01" stroke="#aaa" stroke-width="0.9" stroke-linecap="round" fill="none" filter="url(#blurS)"/>
<ellipse cx="144.5" cy="175.3" rx="5.6" ry="3.6" fill="#000" opacity="1.0" filter="url(#blur0)"/>
<path d="M141.9 173.0h.01M140.2 174.2h.01M149.2 176.3h.01M140.2 175.6h.01M145.2 177.5h.01M143.4 176.6h.01M155.1 175.5h.01M139.8 176.2h.01M141.1 174.1h.01M145.9 176.2h.01M143.6 177.8h.01M144.1 171.2h.01M149.2 174.1h.01M150.8 173.2h.01M147.7 176.2h.01M139.6 179.5h.01M150.2 176.7h.01M148.2 173.7h.01M144.9 175.9h.01M147.0 177.4h.01M144.0 173.0h.01M142.3 176.5h.01M137.0 171.3h.01M143.0 173.5h.01M143.4 174.4h.01M148.7 169.1h.01M143.5 176.7h.01M147.3 178.9h.01M150.1 172.0h.01M148.1 174.2h.01M141.1 179.9h.01M142.0 172.6h.01M143.0 172.6h.01M149.8 176.4h.01M151.7 176.5h.01M142.0 178.4h.01M141.9 173.8h.01M144.2 175.3h.01M150.7 173.3h.01M146.7 175.1h.01M138.9 171.8h.01M143.9 176.4h.01M146.5 176.7h.01M145.2 173.8h.01M147.1 172.1h.01M138.5 174.2h.01M138.1 173.6h.01M141.4 173.5h.01M144.8 172.7h.01M143.0 169.9h.01M145.7 172.5h.01M141.1 175.9h.01M145.5 175.5h.01M137.8 175.9h.01M145.7 172.2h.01M148.6 175.0h.01M145.1 173.8h.01M147.6 175.5h.01M150.5 176.6h.01M142.0 174.5h.01M149.4 174.1h.01M146.8 176.8h.01M144.1 168.0h.01M145.6 175.9h.01M145.7 172.9h.01M150.8 174.8h.01M142.0 173.0h.01M146.7 171.8h.01M140.2 181.4h.01M151.3 178.5h.01M151.6 177.0h.01M136.9 178.9h.01M151.0 176.7h.01M151.6 173.7h.01M145.6 177.6h.01M144.6 178.6h.01M145.4 177.3h.01M145.4 170.6h.01M146.4 179.3h.01M150.5 180.5h.01M147.7 173.4h.01M145.1 169.2h.01M144.1 178.0h.01M149.0 179.3h.01M140.5 173.2h.01M147.6 181.6h.01M139.4 179.5h.01M147.1 173.7h.01M144.7 175.9h.01M155.3 180.8h.01M156.0 175.6h.01M149.8 179.4h.01M147.5 176.3h.01M144.1 173.9h.01M139.0 181.3h.01M142.8 168.7h.01M146.3 175.1h.01M145.9 180.8h.01M144.5 174.4h.01M141.4 175.1h.01M142.9 175.8h.01M160.2 176.4h.01M140.8 181.2h.01M149.2 177.7h.01M148.5 177.8h.01M148.3 179.6h.01M149.9 179.4h.01M142.6 175.2h.01M141.5 178.2h.01M149.0 173.7h.01M151.0 171.7h.01M144.6 177.2h.01M144.8 176.4h.01M150.7 176.2h.01M139.7 177.4h.01M144.5 175.6h.01M142.2 170.9h.01M138.9 174.1h.01M150.6 171.6h.01M141.5 176.9h.01M141.3 177.3h.01M142.7 176.2h.01M145.5 175.2h.01M136.1 170.6h.01M144.8 179.6h.01M142.3 176.9h.01M145.8 176.7h.01M149.8 170.5h.01M146.3 174.6h.01M143.5 172.5h.01M141.2 172.0h.01M153.3 175.2h.01M148.6 172.2h.01M145.7 179.7h.01M144.8 172.1h.01M143.8 172.1h.01M138.2 174.5h.01M143.1 172.7h.01M140.7 172.3h.01M146.2 179.5h.01M137.1 176.1h.01M139.4 174.7h.01M145.5 176.9h.01M150.5 173.5h.01M138.9 174.6h.01M146.4 173.0h.01M149.4 180.5h.01M138.1 176.3h.01M150.0 169.2h.01M146.0 174.5h.01M138.1 179.3h.01M146.1 173.7h.01M147.2 177.2h.01M148.7 177.0h.01M147.0 171.5h.01M142.9 175.6h.01M143.2 171.9h.01M136.1 176.0h.01M145.2 173.4h.01M143.0 172.4h.01M141.3 174.9h.01M141.9 177.3h.01M144.3 175.6h.01M147.0 179.2h.01M147.9 175.9h.01M144.2 172.7h.01M143.3 177.3h.01M146.1 174.0h.01M138.5 170.4h.01M146.6 178.4h.01M146.8 170.9h.01M144.0 175.9h.01M140.5 176.3h.01M144.0 172.6h.01M138.9 177.7h.01M146.7 172.4h.01M140.1 178.0h.01M147.9 174.3h.01M152.8 174.3h.01M139.9 178.6h.01M144.1 176.3h.01M145.2 172.1h.01M139.2 174.6h.01M151.8 172.1h.01M151.6 175.9h.01M139.6 176.0h.01M147.8 172.4h.01M139.6 176.6h.01M141.1 170.6h.01M143.8 175.7h.01M142.3 171.5h.01M146.0 169.8h.01M147.6 176.7h.01M153.2 177.9h.01M146.7 176.0h.01M145.1 171.1h.01M152.1 176.8h.01M143.6 171.6h.01M152.2 176.9h.01M139.2 177.3h.01M154.2 175.1h.01M146.9 173.9h.01M141.9 178.5h.01M160.0 175.6h.01M144.4 177.7h.01M143.5 177.5h.01M149.0 172.0h.01M139.8 175.0h.01M149.0 176.1h.01M151.0 170.9h.01M147.4 173.3h.01M145.5 176.2h.01M140.3 174.5h.01M139.4 176.0h.01M140.9 173.7h.01M146.1 173.2h.01M150.6 173.2h.01M149.1 176.1h.01M140.0 174.5h.01M140.9 174.1h.01M143.7 180.8h.01M143.0 180.1h.01M147.2 171.1h.01M150.0 176.4h.01M144.0 174.4h.01M146.3 174.3h.01M142.4 174.1h.01M150.7 173.3h.01M146.8 171.6h.01M141.5 170.9h.01M144.0 177.3h.01M146.5 173.7h.01M148.0 174.1h.01M146.8 176.0h.01M138.7 177.6h.01M143.9 173.5h.01M152.2 176.9h.01M154.2 176.8h.01M144.0 177.4h.01M141.2 173.8h.01M142.3 174.5h.01M148.8 173.7h.01M146.6 173.7h.01M144.0 175.7h.01M139.8 178.3h.01M146.0 179.2h.01M149.6 177.2h.01M144.3 171.8h.01M143.9 173.8h.01M146.2 173.8h.01M159.8 170.3h.01M150.7 173.7h.01M143.8 178.1h.01M145.0 171.5h.01M147.0 174.6h.01M139.9 172.9h.01M147.3 176.1h.01M143.6 181.9h.01M147.0 173.3h.01M146.1 174.8h.01M138.3 181.6h.01M144.1 174.3h.01M142.3 178.2h.01M145.1 180.5h.01M148.8 180.3h.01M144.4 176.4h.01M142.9 174.7h.01M136.7 173.4h.01M140.4 173.2h.01M150.9 176.0h.01M150.9 177.8h.01M149.4 178.3h.01M142.1 177.7h.01M143.4 173.6h.01M150.8 181.9h.01M140.3 180.6h.01M149.0 172.6h.01M146.3 176.3h.01M146.8 174.1h.01M138.8 175.3h.01M149.2 177.6h.01M148.2 178.6h.01M140.2 175.1h.01M146.6 178.3h.01M145.8 176.8h.01M145.6 181.7h.01M156.9 175.9h.01M136.2 175.6h.01M138.1 173.1h.01M146.1 180.5h.01M147.2 177.3h.01M149.9 175.8h.01M140.9 174.9h.01M146.6 174.3h.01M141.8 174.1h.01M137.8 172.0h.01M144.6 174.1h.01M145.2 179.5h.01M146.4 175.1h.01M139.4 171.9h.01M146.8 172.5h.01M147.1 171.9h.01M145.6 175.0h.01M149.8 174.0h.01M143.2 176.0h.01M145.3 180.4h.01M143.8 173.5h.01M143.5 176.7h.01M146.1 177.3h.01M153.9 175.1h.01M139.2 175.7h.01M147.0 168.3h.01M145.1 170.6h.01M147.2 179.5h.01M150.0 170.6h.01M151.6 178.0h.01M143.3 176.7h.01M152.3 174.2h.01M144.9 173.5h.01M150.6 168.6h.01M151.8 172.2h.01M149.5 170.2h.01M140.5 173.4h.01M149.0 170.2h.01M147.9 173.2h.01M151.0 174.2h.01M147.3 174.7h.01M153.6 174.1h.01M144.9 181.3h.01M145.4 177.3h.01M141.5 175.8h.01M141.9 170.6h.01M138.2 178.7h.01M147.1 170.5h.01M153.7 173.1h.01M143.2 176.0h.01M139.5 170.2h.01M141.4 178.8h.01M149.6 170.3h.01M150.8 175.3h.01M147.4 175.4h.01M147.0 172.1h.01M140.6 173.0h.01M143.2 177.1h.01M139.1 180.1h.01M142.0 173.4h.01M148.4 176.5h.01M143.4 171.9h.01M140.2 170.3h.01M150.5 178.5h.01M154.0 176.7h.01M146.6 177.5h.01M149.6 174.4h.01M146.7 181.8h.01M136.8 170.9h.01M140.4 177.5h.01M150.7 174.2h.01M148.2 175.1h.01M146.4 173.5h.01M144.9 175.2h.01M136.3 176.8h.01M145.0 178.2h.01M150.1 177.6h.01M148.9 172.3h.01M136.8 180.3h.01M150.8 172.3h.01M151.2 177.3h.01M140.2 178.8h.01" stroke="#000" stroke-width="1.1" stroke-linecap="round" fill="none" filter="url(#blurS)"/>
<path d="M153.1 173.1h.01M148.1 174.6h.01M162.9 173.3h.01M146.3 181.4h.01M167.7 177.2h.01M153.9 171.7h.01M147.5 176.8h.01M164.5 172.1h.01M157.0 174.4h.01M155.5 176.7h.01M169.1 173.4h.01M161.9 178.3h.01M155.4 174.8h.01M149.2 178.3h.01M153.9 173.3h.01M157.4 172.7h.01M151.0 174.3h.01M165.6 174.6h.01M160.0 171.0h.01M145.7 180.5h.01M154.7 170.7h.01M156.4 177.0h.01M147.0 172.6h.01M158.5 172.5h.01M161.6 178.0h.01M159.6 174.0h.01M156.7 173.4h.01M156.2 176.1h.01M155.3 178.0h.01M172.0 173.6h.01M159.0 177.6h.01M160.7 174.5h.01M154.2 178.1h.01M160.6 176.7h.01M152.3 177.0h.01M161.6 174.7h.01M160.7 181.5h.01M146.1 177.0h.01M150.2 171.2h.01M155.6 176.8h.01M157.3 171.8h.01M148.7 173.6h.01M157.1 172.8h.01M148.3 180.3h.01M152.1 174.7h.01M153.8 173.5h.01M157.2 174.3h.01M160.6 171.8h.01M148.4 180.9h.01M156.6 177.4h.01M163.8 176.8h.01M157.2 170.7h.01M147.7 178.0h.01M160.9 176.9h.01M147.4 169.0h.01M150.9 171.8h.01M157.9 172.2h.01M166.2 173.4h.01M153.7 177.7h.01M158.9 172.6h.01M161.8 180.8h.01M149.9 174.5h.01M150.7 169.6h.01M160.6 177.2h.01M162.7 176.4h.01M145.3 175.1h.01M153.1 171.8h.01M150.6 177.4h.01M155.3 180.9h.01M159.7 169.6h.01M162.2 178.8h.01M157.2 171.7h.01M167.3 171.4h.01M156.5 169.6h.01M149.7 170.2h.01M163.4 178.6h.01M154.6 171.2h.01M156.6 176.3h.01M148.1 171.8h.01M156.4 177.3h.01M157.4 176.5h.01M158.8 172.5h.01M156.3 174.1h.01M159.8 172.9h.01M165.5 175.3h.01M160.1 177.0h.01M163.1 176.4h.01M146.8 173.4h.01M167.9 176.6h.01M160.3 176.6h.01M153.2 173.2h.01M153.2 178.6h.01M159.1 180.4h.01M159.9 180.7h.01M159.7 171.7h.01M167.2 176.2h.01M164.0 175.8h.01M155.1 175.7h.01M150.4 171.7h.01M151.8 173.7h.01M149.0 174.9h.01M158.8 181.2h.01M167.8 175.1h.01M162.2 174.6h.01M159.3 175.1h.01M153.8 175.4h.01M148.3 176.5h.01M155.3 172.0h.01M154.9 176.8h.01M153.0 176.6h.01M160.4 179.8h.01M150.6 174.9h.01M160.0 179.6h.01M158.5 177.4h.01M148.3 173.5h.01M166.8 174.4h.01M169.8 173.0h.01M155.4 170.5h.01M160.8 176.0h.01M168.9 175.7h.01M155.5 171.0h.01M156.5 178.0h.01M161.4 178.8h.01M162.1 175.1h.01M160.6 175.7h.01M149.1 180.3h.01M159.2 172.1h.01M159.3 176.1h.01M162.9 179.5h.01M139.0 176.8h.01M166.1 172.4h.01M146.0 176.0h.01M159.0 176.2h.01M150.4 173.8h.01M158.2 177.4h.01M170.0 176.1h.01M153.4 168.2h.01M163.4 174.8h.01M156.3 172.3h.01M161.4 169.9h.01M157.6 175.6h.01M158.8 179.1h.01M156.4 175.5h.01M162.1 170.6h.01M155.3 175.4h.01M162.7 172.8h.01M161.8 176.3h.01M148.1 170.8h.01M148.5 175.6h.01M158.2 177.4h.01M161.9 173.6h.01M163.4 177.6h.01M159.8 176.6h.01M149.3 176.3h.01M150.8 171.6h.01M154.9 175.6h.01M156.7 174.2h.01M151.0 175.8h.01M152.6 171.0h.01" stroke="#555" stroke-width="1.1" stroke-linecap="round" fill="none" filter="url(#blurS)"/>
<path d="M165.2 177.8h.01M164.3 173.3h.01M167.5 178.3h.01M164.5 174.8h.01M165.4 180.5h.01M165.2 177.0h.01M165.8 171.9h.01M163.0 173.0h.01M165.8 175.4h.01M168.2 174.7h.01M165.6 175.3h.01M165.2 179.4h.01M165.5 177.8h.01M167.3 174.1h.01M166.2 174.5h.01M165.2 175.5h.01M165.0 174.4h.01M167.8 174.7h.01M166.3 178.2h.01M166.1 177.0h.01M167.5 177.2h.01M168.1 172.6h.01M168.5 175.2h.01M161.9 174.1h.01M162.5 175.2h.01M162.3 173.4h.01M165.5 175.5h.01M163.6 174.8h.01M164.8 175.3h.01M165.0 174.8h.01M166.6 172.3h.01M164.1 175.4h.01M164.3 174.2h.01M164.2 175.6h.01M167.2 174.9h.01M164.5 175.8h.01M164.6 171.7h.01M165.5 174.5h.01M164.0 176.3h.01M165.1 174.2h.01M161.1 172.1h.01M165.0 175.0h.01M165.8 175.6h.01M164.1 172.9h.01M163.0 174.9h.01M162.9 176.6h.01M162.6 172.0h.01M164.7 172.0h.01M167.9 173.4h.01M164.9 174.8h.01M163.5 172.0h.01M161.7 176.8h.01M166.8 179.1h.01M162.4 176.2h.01M165.0 176.7h.01M164.1 176.5h.01M166.6 176.3h.01M167.6 174.9h.01M167.8 173.9h.01M168.0 170.3h.01" stroke="#111" stroke-width="1.1" stroke-linecap="round" fill="none" filter="url(#blurS)"/>
<line x1="38" y1="202.8" x2="103.7" y2="202.8" stroke="#b0b0b0" stroke-width="1" />
<line x1="103.7" y1="202.8" x2="103.7" y2="261.6" stroke="#b0b0b0" stroke-width="1" />
<line x1="38" y1="261.6" x2="103.7" y2="261.6" stroke="#999" stroke-width="1" />
<line x1="38" y1="202.8" x2="38" y2="261.6" stroke="#999" stroke-width="1" />
<line x1="52.7" y1="202.8" x2="52.7" y2="261.6" stroke="#666" stroke-width="1" />
<line x1="38" y1="246.4" x2="103.7" y2="246.4" stroke="#777" stroke-width="1" />
<rect x="32" y="202.70000000000002" width="3" height="1.3" fill="#444"/>
<rect x="32" y="230.97600000000003" width="3" height="1.3" fill="#444"/>
<rect x="32" y="245.8" width="3" height="1.3" fill="#444"/>
<rect x="32" y="259.0" width="3" height="1.3" fill="#444"/>
<rect x="38.5" y="263.6" width="3" height="1.3" fill="#444"/>
<rect x="54.425" y="263.6" width="3" height="1.3" fill="#444"/>
<rect x="70.35" y="263.6" width="3" height="1.3" fill="#444"/>
<rect x="86.275" y="263.6" width="3" height="1.3" fill="#444"/>
<rect x="102.2" y="263.6" width="3" height="1.3" fill="#444"/>
<text x="39.5" y="206.8" style="font-family:'Liberation Sans';font-size:4px" fill="#555">L1</text>
<text x="54.2" y="206.8" style="font-family:'Liberation Sans';font-size:4px" fill="#555">L2</text>
<text x="39.5" y="250.4" style="font-family:'Liberation Sans';font-size:4px" fill="#555">L3</text>
<text x="54.2" y="250.4" style="font-family:'Liberation Sans';font-size:4px" fill="#555">L4</text>
<ellipse cx="46.8" cy="254.7" rx="6.6" ry="5.0" fill="#000" opacity="1.0" filter="url(#blur0)"/>
<path d="M47.0 252.4h.01M47.0 257.4h.01M49.6 254.9h.01M53.1 250.6h.01M44.1 258.7h.01M48.2 249.0h.01M48.2 251.4h.01M52.3 257.7h.01M45.0 258.1h.01M44.0 257.1h.01M49.1 254.3h.01M41.9 253.8h.01M38.8 253.1h.01M40.3 257.9h.01M43.5 248.0h.01M49.1 255.6h.01M45.2 260.3h.01M49.8 254.8h.01M48.7 257.2h.01M44.9 250.8h.01M46.8 250.1h.01M47.0 256.7h.01M52.4 255.3h.01M47.7 256.6h.01M52.0 253.7h.01M42.6 252.5h.01M42.5 252.2h.01M46.6 255.5h.01M47.6 254.8h.01M45.7 255.7h.01M50.2 256.7h.01M52.4 253.8h.01M46.1 259.2h.01M47.7 255.7h.01M45.8 257.2h.01M45.6 251.9h.01M46.8 253.4h.01M50.0 253.6h.01M47.4 254.0h.01M48.2 252.9h.01M51.0 250.8h.01M45.6 252.7h.01M49.3 254.7h.01M48.7 253.7h.01M44.4 251.6h.01M45.8 253.2h.01M48.0 255.6h.01M50.5 254.3h.01M44.3 251.7h.01M47.2 255.6h.01M54.0 255.1h.01M53.3 259.7h.01M43.2 257.9h.01M51.1 258.2h.01M47.0 257.2h.01M45.3 254.4h.01M47.1 259.4h.01M46.2 257.2h.01M47.2 252.7h.01M47.9 256.4h.01M44.4 256.3h.01M44.4 252.2h.01M47.8 254.0h.01M43.5 250.2h.01M47.1 255.3h.01M45.3 255.1h.01M41.5 255.7h.01M48.5 255.4h.01M44.8 254.8h.01M47.5 257.5h.01M48.0 255.3h.01M44.4 256.9h.01M51.2 253.3h.01M49.3 255.4h.01M46.8 251.1h.01M53.3 249.6h.01M48.1 253.6h.01M51.1 253.5h.01M47.1 256.2h.01M48.6 253.2h.01M49.5 255.7h.01M50.6 253.2h.01M46.8 253.5h.01M44.0 255.3h.01M48.5 258.4h.01M45.8 255.6h.01M51.1 254.3h.01M47.2 255.0h.01M44.5 251.9h.01M51.0 255.1h.01M46.7 251.3h.01M47.4 257.8h.01M42.9 252.2h.01M51.0 258.5h.01M52.6 253.1h.01M49.2 252.6h.01M48.9 253.6h.01M47.7 258.2h.01M48.2 254.0h.01M47.2 255.3h.01M45.2 255.2h.01M49.1 258.8h.01M39.6 251.4h.01M42.6 257.0h.01M55.7 255.1h.01M47.4 257.7h.01M45.2 253.3h.01M48.2 253.0h.01M51.0 254.6h.01M48.4 261.4h.01M45.4 257.1h.01M44.0 257.9h.01M50.4 255.0h.01M50.5 258.9h.01M51.9 254.6h.01M46.8 257.6h.01M41.7 253.0h.01M48.7 256.1h.01M53.6 259.3h.01M48.2 255.8h.01M42.3 254.1h.01M47.9 254.0h.01M47.2 256.2h.01M43.6 253.1h.01M40.7 257.7h.01M43.2 250.0h.01M49.7 254.0h.01M50.4 253.6h.01M54.6 256.5h.01M47.5 254.9h.01M46.3 256.8h.01M54.1 253.5h.01M43.1 256.2h.01M50.8 250.6h.01M44.5 251.9h.01M49.0 255.9h.01M44.4 251.6h.01M49.4 249.1h.01M49.3 254.2h.01M53.8 257.2h.01M44.9 253.9h.01M46.0 252.7h.01M47.3 257.2h.01M41.6 254.0h.01M52.3 256.6h.01M44.1 252.5h.01M44.0 250.3h.01M51.1 254.8h.01M44.5 250.8h.01M45.6 253.2h.01M53.1 253.4h.01M47.4 257.4h.01M49.4 254.1h.01M39.3 258.3h.01M49.1 253.4h.01M46.7 252.1h.01M43.8 250.7h.01M48.8 256.0h.01M47.6 256.7h.01M48.9 254.9h.01M43.9 256.2h.01M51.2 256.3h.01M51.4 253.3h.01M43.5 257.9h.01M44.9 255.2h.01M46.3 254.7h.01M46.0 253.2h.01M40.7 259.7h.01M47.7 249.5h.01M43.8 251.6h.01M44.4 247.8h.01M49.0 258.9h.01M46.1 256.6h.01M49.1 251.3h.01M51.3 250.1h.01M45.0 253.6h.01M51.4 254.9h.01M46.6 252.5h.01M47.3 254.7h.01M49.6 258.3h.01M49.6 254.6h.01M46.5 258.8h.01M47.7 254.6h.01M53.3 258.7h.01M49.0 254.3h.01M44.8 257.4h.01M45.4 257.1h.01M44.2 254.9h.01M48.4 255.0h.01M47.8 255.6h.01M43.0 251.7h.01M46.5 259.4h.01M46.6 252.2h.01M44.7 254.7h.01M51.2 253.1h.01M49.0 255.1h.01M45.7 252.1h.01M46.5 252.7h.01M48.9 250.0h.01M51.0 256.6h.01M49.0 258.6h.01M49.1 250.1h.01M47.2 255.8h.01M44.6 251.6h.01M48.5 255.9h.01M45.5 254.0h.01M45.2 253.1h.01M46.8 257.4h.01M41.3 253.7h.01M52.7 255.4h.01M47.5 256.8h.01M43.5 251.4h.01M41.2 250.8h.01M47.9 256.8h.01M45.5 252.8h.01M48.4 256.2h.01M47.9 249.6h.01M45.1 247.9h.01M47.9 252.4h.01M44.7 258.6h.01M51.6 255.9h.01M48.0 255.1h.01M44.9 254.5h.01M53.7 252.3h.01M44.7 255.0h.01M50.1 256.8h.01M43.6 254.3h.01M46.1 251.4h.01M47.3 253.3h.01M50.2 255.7h.01M44.3 254.8h.01M45.8 252.9h.01M45.3 257.4h.01M45.6 250.1h.01M44.3 256.7h.01M54.5 251.8h.01M45.8 253.7h.01M42.1 255.7h.01M46.8 255.3h.01M54.8 253.9h.01M49.8 256.8h.01M44.8 253.0h.01M52.5 256.5h.01M47.5 251.7h.01M50.1 256.0h.01M54.7 258.5h.01M49.8 255.3h.01M47.2 253.2h.01M48.1 255.2h.01M49.3 257.5h.01M48.1 253.2h.01M49.8 258.7h.01M44.1 255.7h.01M48.9 256.0h.01M48.8 254.4h.01M46.6 259.0h.01M53.1 250.9h.01M44.6 253.2h.01M41.4 255.5h.01M46.8 253.2h.01M50.1 261.0h.01M52.2 257.7h.01M45.6 256.3h.01M46.9 257.6h.01M49.0 254.5h.01M48.9 252.7h.01M49.8 258.5h.01M45.7 256.1h.01M41.2 257.1h.01M50.1 251.9h.01M53.1 254.9h.01M40.9 251.0h.01M50.1 253.9h.01M50.9 250.5h.01M46.7 257.2h.01M44.6 256.4h.01M45.7 255.5h.01M48.1 260.5h.01M42.7 256.6h.01M51.6 251.7h.01M47.3 260.7h.01M46.2 250.1h.01M48.1 252.7h.01M45.0 252.4h.01M48.0 253.4h.01M43.8 254.0h.01M48.4 252.4h.01M50.9 250.2h.01M48.4 253.6h.01M52.5 252.9h.01M44.7 251.1h.01M53.9 256.2h.01M43.2 253.7h.01M43.7 258.6h.01M48.5 249.3h.01M47.7 257.0h.01M47.0 255.8h.01M46.6 255.1h.01M47.7 252.7h.01M48.2 255.0h.01M46.9 252.8h.01M43.5 255.2h.01M49.9 248.3h.01M45.1 258.2h.01M50.2 252.7h.01M51.7 252.0h.01M44.2 259.7h.01M45.5 254.0h.01M41.2 251.9h.01M42.9 254.2h.01M40.6 257.4h.01M45.8 253.0h.01M44.8 256.6h.01M52.4 253.5h.01M52.6 258.8h.01M51.7 255.4h.01M41.8 256.4h.01M45.6 255.1h.01M40.4 253.9h.01M47.8 252.1h.01M48.0 259.0h.01M47.8 252.8h.01M55.4 248.9h.01M43.8 255.7h.01M44.9 248.6h.01M47.9 256.8h.01M44.2 258.5h.01M48.8 257.7h.01M41.7 254.6h.01M52.6 259.9h.01M51.6 254.6h.01M47.6 253.0h.01M50.9 252.8h.01M47.4 249.2h.01M41.7 259.3h.01M47.2 255.2h.01M39.3 254.5h.01M54.3 250.7h.01M38.7 254.2h.01M45.1 254.0h.01M42.6 251.0h.01M42.7 256.3h.01M46.8 256.8h.01M43.2 256.2h.01M45.4 254.8h.01" stroke="#000" stroke-width="1.1" stroke-linecap="round" fill="none" filter="url(#blurS)"/>
<path d="M63.5 254.1h.01M55.9 249.1h.01M58.4 256.3h.01M54.3 253.8h.01M47.6 250.1h.01M60.4 257.8h.01M56.2 249.1h.01M55.8 249.4h.01M56.4 259.7h.01M59.8 253.6h.01M64.1 252.9h.01M60.0 254.6h.01M60.6 249.7h.01M62.2 256.6h.01M52.7 258.4h.01M58.1 256.0h.01M61.3 256.6h.01M54.2 252.3h.01M60.2 255.8h.01M61.4 255.0h.01M55.1 257.3h.01M60.8 257.1h.01M43.0 257.0h.01M43.6 254.6h.01M54.1 254.4h.01M55.2 253.1h.01M59.1 255.0h.01M53.4 255.6h.01M53.0 255.3h.01M55.8 251.2h.01M64.9 258.9h.01M57.4 253.9h.01M63.7 250.1h.01M52.8 257.4h.01M63.3 252.5h.01M53.4 255.0h.01M49.7 252.5h.01M61.5 256.3h.01M64.3 249.7h.01M50.4 251.6h.01M50.3 260.1h.01M52.2 253.1h.01M59.2 255.4h.01M66.6 250.8h.01M63.2 254.4h.01M51.0 254.4h.01M49.7 258.8h.01M53.7 257.0h.01M65.7 252.2h.01M52.7 254.4h.01M51.8 256.7h.01M59.0 251.7h.01M53.9 256.2h.01M49.4 259.0h.01M53.3 253.4h.01M52.5 258.8h.01M62.9 257.9h.01M61.9 254.3h.01M68.1 256.0h.01M60.6 255.7h.01M62.4 254.8h.01M57.0 249.2h.01M70.3 250.1h.01M45.1 251.9h.01M69.6 257.6h.01M54.4 254.8h.01M57.9 248.1h.01M56.0 254.9h.01M65.0 250.4h.01M44.5 249.3h.01M60.0 254.2h.01M58.9 254.4h.01M55.8 249.9h.01M60.7 255.2h.01M61.5 257.7h.01M47.3 260.4h.01" stroke="#666" stroke-width="1.1" stroke-linecap="round" fill="none" filter="url(#blurS)"/>
<line x1="135.2" y1="206.2" x2="200.6" y2="206.2" stroke="#b0b0b0" stroke-width="1" />
<line x1="200.6" y1="206.2" x2="200.6" y2="266.5" stroke="#b0b0b0" stroke-width="1" />
<line x1="135.2" y1="266.5" x2="200.6" y2="266.5" stroke="#999" stroke-width="1" />
<line x1="135.2" y1="206.2" x2="135.2" y2="266.5" stroke="#999" stroke-width="1" />
<line x1="149.6" y1="206.2" x2="149.6" y2="266.5" stroke="#666" stroke-width="1" />
<line x1="135.2" y1="251.3" x2="200.6" y2="251.3" stroke="#777" stroke-width="1" />
<rect x="129.2" y="206.1" width="3" height="1.3" fill="#444"/>
<rect x="129.2" y="235.366" width="3" height="1.3" fill="#444"/>
<rect x="129.2" y="250.70000000000002" width="3" height="1.3" fill="#444"/>
<rect x="129.2" y="263.9" width="3" height="1.3" fill="#444"/>
<rect x="135.7" y="268.5" width="3" height="1.3" fill="#444"/>
<rect x="151.54999999999998" y="268.5" width="3" height="1.3" fill="#444"/>
<rect x="167.39999999999998" y="268.5" width="3" height="1.3" fill="#444"/>
<rect x="183.25" y="268.5" width="3" height="1.3" fill="#444"/>
<rect x="199.1" y="268.5" width="3" height="1.3" fill="#444"/>
<text x="136.7" y="210.2" style="font-family:'Liberation Sans';font-size:4px" fill="#555">L1</text>
<text x="151.1" y="210.2" style="font-family:'Liberation Sans';font-size:4px" fill="#555">L2</text>
<text x="136.7" y="255.3" style="font-family:'Liberation Sans';font-size:4px" fill="#555">L3</text>
<text x="151.1" y="255.3" style="font-family:'Liberation Sans';font-size:4px" fill="#555">L4</text>
<path d="M137.3 232.6 L149.5 232.8 L150.5 235.5 L147 237.8 L141 238 L137.3 236 Z" fill="#000" filter="url(#blur0)"/>
<path d="M139.7 236.1h.01M142.9 236.7h.01M142.4 234.5h.01M143.9 236.3h.01M139.5 237.6h.01M147.1 236.2h.01M142.6 235.1h.01M137.1 236.5h.01M139.5 234.7h.01M146.6 234.0h.01M141.1 236.9h.01M149.7 234.4h.01M147.0 234.5h.01M144.4 236.3h.01M138.9 237.1h.01M149.5 235.6h.01M144.0 233.6h.01M149.4 235.6h.01M138.4 236.7h.01M137.7 234.4h.01M151.0 234.5h.01M140.6 234.6h.01M141.0 236.4h.01M148.3 233.9h.01M144.6 232.6h.01M148.5 235.4h.01M140.5 237.9h.01M142.6 237.7h.01M146.9 238.2h.01M140.1 235.6h.01M144.3 235.2h.01M148.5 234.4h.01M146.6 237.7h.01M139.7 234.6h.01M144.4 235.2h.01M143.3 234.8h.01M142.7 236.3h.01M145.7 234.2h.01M142.6 234.3h.01M142.4 233.2h.01M146.4 236.6h.01M142.6 234.4h.01M141.4 234.4h.01M137.4 238.1h.01M138.8 236.4h.01M145.2 233.0h.01M136.1 236.4h.01M141.2 235.6h.01M143.0 234.6h.01M142.5 235.0h.01M147.5 235.4h.01M142.9 234.7h.01M140.7 234.3h.01M143.0 238.4h.01M147.0 235.9h.01M149.0 237.1h.01M143.7 235.2h.01M139.0 235.9h.01M141.9 233.0h.01M138.4 238.6h.01M143.8 236.3h.01M143.7 234.8h.01M144.7 237.2h.01M141.9 236.3h.01M146.7 234.7h.01M143.6 234.3h.01M145.2 234.9h.01M147.1 234.3h.01M149.1 235.0h.01M140.0 234.1h.01M145.4 234.1h.01M149.5 237.6h.01M144.9 233.2h.01M142.9 234.3h.01M136.5 236.2h.01M150.9 234.6h.01M145.9 237.6h.01M139.5 235.0h.01M144.0 236.3h.01M138.9 235.8h.01M142.6 237.0h.01M137.2 234.6h.01M141.2 235.0h.01M145.6 234.5h.01M146.0 237.1h.01M146.5 235.2h.01M140.0 235.1h.01M145.4 235.7h.01M145.1 236.4h.01M139.8 234.0h.01M148.2 234.7h.01M137.3 238.5h.01M140.0 234.0h.01M146.5 233.7h.01M139.9 237.2h.01M140.0 239.5h.01M143.4 239.8h.01M143.5 235.6h.01M140.7 235.1h.01M141.2 235.5h.01M145.8 233.5h.01M139.7 232.2h.01M148.4 235.4h.01M143.0 235.4h.01M146.6 236.0h.01M146.1 235.2h.01M142.6 235.4h.01M136.3 237.2h.01M137.3 233.9h.01M145.4 235.6h.01M145.9 238.2h.01M149.7 237.7h.01M142.2 238.8h.01M139.8 235.4h.01M146.6 235.2h.01M142.6 234.9h.01M147.9 231.6h.01M147.6 237.2h.01M142.7 236.4h.01M139.5 237.3h.01M148.0 235.4h.01M141.8 234.7h.01M142.3 233.5h.01M138.1 238.2h.01M142.9 236.4h.01M144.1 236.3h.01M137.5 234.0h.01M145.3 237.1h.01M138.9 234.6h.01M139.2 236.5h.01M144.2 235.6h.01M140.7 236.0h.01M143.1 234.3h.01M144.2 234.4h.01M146.4 236.5h.01M140.5 236.4h.01M143.2 234.4h.01M139.7 232.8h.01M138.9 236.1h.01M147.3 234.5h.01M143.6 236.1h.01M145.8 236.2h.01M147.4 236.7h.01M140.3 236.1h.01M143.1 236.4h.01M141.9 236.8h.01M147.8 234.2h.01M141.0 235.9h.01M144.8 235.7h.01M146.0 233.6h.01M145.8 237.4h.01M147.0 236.2h.01M142.1 236.1h.01M142.7 233.0h.01M140.8 235.4h.01M141.1 234.0h.01M142.2 234.9h.01M143.2 235.4h.01M143.6 237.1h.01M143.5 236.2h.01M141.6 236.6h.01M141.8 234.5h.01M138.5 236.9h.01M141.1 235.9h.01M147.1 236.4h.01M151.1 235.3h.01M146.4 236.6h.01M140.6 235.6h.01M141.0 233.9h.01M144.1 234.3h.01M149.0 234.3h.01M141.0 235.6h.01M141.1 235.6h.01M140.8 233.2h.01M148.5 236.2h.01M143.6 234.8h.01M142.5 236.0h.01M138.0 234.2h.01M139.8 237.5h.01M139.2 237.4h.01M141.3 239.9h.01M142.7 235.6h.01M147.9 236.9h.01M146.4 233.8h.01M147.1 238.2h.01M142.6 234.7h.01M139.1 237.1h.01M144.1 235.5h.01M138.6 238.1h.01M146.2 235.5h.01" stroke="#000" stroke-width="1.1" stroke-linecap="round" fill="none" filter="url(#blurS)"/>
<path d="M161.8 250.5h.01M161.4 241.2h.01M166.3 247.8h.01M161.0 241.0h.01M154.0 236.9h.01M154.3 240.8h.01M157.0 239.2h.01M152.5 239.2h.01M155.3 238.0h.01M155.3 242.2h.01M158.1 246.9h.01M151.1 242.2h.01M161.5 246.6h.01M159.8 240.7h.01M150.8 241.7h.01M155.6 240.6h.01M155.7 238.0h.01M159.6 249.9h.01M156.4 243.1h.01M157.0 241.5h.01M155.0 240.8h.01M158.7 248.9h.01M159.6 247.4h.01M159.5 249.1h.01M160.0 244.7h.01M161.7 244.1h.01M151.5 241.7h.01M148.8 237.1h.01M166.1 247.7h.01M163.9 250.1h.01M160.9 248.3h.01M149.0 239.3h.01M161.1 247.8h.01M156.7 239.4h.01M155.9 237.2h.01M162.2 249.7h.01M160.4 250.1h.01M156.8 240.9h.01M152.6 241.9h.01M151.6 238.2h.01M150.0 243.4h.01M155.7 239.3h.01M160.3 250.3h.01M153.1 237.7h.01M161.2 246.9h.01M161.9 250.2h.01M157.6 240.6h.01M151.3 241.3h.01M150.7 234.9h.01M148.0 237.3h.01M154.5 241.7h.01M160.8 244.5h.01M158.2 245.5h.01M158.8 246.5h.01M158.5 244.8h.01M160.6 250.0h.01M162.4 249.9h.01M155.2 247.0h.01M152.2 242.4h.01M158.3 246.0h.01M159.0 244.1h.01M152.3 239.1h.01M155.2 239.2h.01M161.7 250.4h.01M149.4 239.1h.01M162.0 248.7h.01M154.2 238.1h.01M150.5 235.6h.01M160.4 248.5h.01M162.0 246.3h.01M155.6 243.8h.01M154.8 241.7h.01M154.7 237.2h.01M163.9 246.4h.01M159.7 241.7h.01M148.4 239.7h.01M152.9 239.9h.01M165.9 248.9h.01M151.6 236.1h.01M148.7 236.3h.01M148.9 238.9h.01M154.5 243.4h.01M157.3 242.9h.01M154.0 246.5h.01M162.7 251.8h.01M154.5 245.3h.01M153.8 242.4h.01M163.1 248.2h.01M155.7 240.1h.01M155.3 246.6h.01M149.3 244.2h.01M152.2 243.9h.01M152.0 236.5h.01M155.8 239.0h.01M153.0 241.9h.01M156.6 240.9h.01M164.5 249.2h.01M150.0 239.9h.01M160.0 244.9h.01M156.8 240.4h.01M152.0 240.0h.01M163.4 246.5h.01M154.7 241.6h.01M152.7 238.9h.01M164.5 249.3h.01M159.0 240.9h.01M155.7 243.5h.01M157.6 246.8h.01M159.6 246.3h.01M148.4 240.7h.01M157.2 246.2h.01M151.8 242.6h.01M155.9 245.7h.01M156.7 246.8h.01M152.0 237.0h.01M154.6 246.8h.01M157.8 245.7h.01M154.7 237.0h.01M154.5 243.8h.01M162.4 245.2h.01M159.1 236.8h.01M159.8 249.9h.01M156.8 247.8h.01M147.9 238.1h.01M160.1 252.9h.01M153.5 239.5h.01M160.2 250.2h.01M153.7 246.9h.01M147.7 237.8h.01M162.7 247.2h.01M162.9 242.7h.01M152.8 238.3h.01M162.7 249.3h.01M153.7 241.4h.01M147.7 239.3h.01M149.7 238.9h.01M151.8 238.0h.01M161.4 251.2h.01M158.8 253.4h.01M159.7 238.5h.01M161.7 247.1h.01M157.0 252.3h.01M159.9 247.1h.01M162.1 250.7h.01M160.1 241.5h.01M153.5 235.8h.01M162.6 243.3h.01M155.1 243.6h.01M150.5 240.4h.01M160.6 246.8h.01M161.4 248.5h.01M152.1 244.8h.01M151.4 240.3h.01M150.1 246.0h.01M157.1 243.2h.01M160.3 247.3h.01M158.9 248.4h.01M153.4 237.9h.01M154.5 240.9h.01M157.8 239.4h.01M154.5 246.2h.01M152.7 246.5h.01M156.3 243.9h.01M161.0 245.6h.01M154.0 241.6h.01M153.9 239.4h.01M160.3 243.8h.01M157.5 244.9h.01M152.4 239.2h.01M160.9 248.0h.01M151.7 240.9h.01M160.1 243.0h.01M156.1 247.6h.01M151.1 242.6h.01M161.3 249.6h.01M163.9 245.5h.01M157.7 240.4h.01M155.9 234.8h.01M152.4 235.6h.01M150.1 239.4h.01M151.1 240.5h.01M152.6 236.9h.01M152.8 237.7h.01M156.7 242.6h.01M159.1 242.0h.01M160.7 249.4h.01M148.1 237.4h.01M150.1 236.1h.01M162.6 245.4h.01M153.2 238.3h.01M161.7 246.7h.01M149.6 242.2h.01M158.7 243.5h.01M157.6 241.8h.01M151.7 235.2h.01M153.5 236.1h.01M157.4 244.2h.01M162.4 247.7h.01M160.7 250.4h.01M149.8 237.7h.01M151.0 241.6h.01M151.7 240.9h.01M155.2 238.8h.01M160.4 248.3h.01M158.9 247.8h.01M148.3 237.0h.01M151.7 243.1h.01M158.9 249.5h.01M163.8 251.1h.01M159.9 247.8h.01M153.5 243.8h.01M154.5 239.9h.01M148.0 239.2h.01M156.3 241.9h.01M155.2 243.0h.01M159.6 239.7h.01M154.9 235.5h.01M153.0 244.3h.01M160.8 244.0h.01M158.4 243.9h.01M156.1 236.2h.01M151.5 235.9h.01M150.8 245.3h.01M152.7 232.7h.01M160.8 243.0h.01M158.7 240.4h.01M151.9 237.1h.01M157.2 249.7h.01M153.7 237.4h.01M161.0 243.8h.01M150.9 234.8h.01M157.4 245.5h.01M152.2 242.9h.01M151.3 242.3h.01M161.7 247.1h.01M159.0 250.3h.01M150.8 237.7h.01M163.7 249.4h.01M149.7 236.1h.01M153.4 237.0h.01M156.8 240.0h.01M150.9 237.8h.01M158.3 242.4h.01M150.2 246.3h.01M154.9 243.2h.01M149.0 245.6h.01M157.8 246.6h.01M161.9 245.7h.01M152.8 240.6h.01M155.4 243.1h.01M161.5 249.7h.01M158.5 249.3h.01M151.9 241.4h.01M153.6 244.2h.01M162.0 251.2h.01M158.2 243.6h.01M153.3 244.2h.01M162.3 250.2h.01M156.0 238.1h.01M151.4 235.5h.01" stroke="#555" stroke-width="1.1" stroke-linecap="round" fill="none" filter="url(#blurS)"/>
<path d="M142.3 239.6h.01M139.5 243.0h.01M143.9 240.2h.01M143.4 241.6h.01M142.7 240.1h.01M141.2 240.8h.01M142.7 240.7h.01M139.4 239.9h.01M142.3 238.1h.01M141.0 241.5h.01M141.5 239.5h.01M140.9 239.1h.01M143.9 239.3h.01M136.1 237.7h.01M141.9 240.4h.01M139.6 237.5h.01M140.6 238.4h.01M139.1 240.0h.01M138.7 240.6h.01M138.8 239.1h.01M140.3 242.8h.01M145.6 241.8h.01M138.8 240.0h.01M143.7 241.6h.01M136.2 239.9h.01" stroke="#777" stroke-width="1.1" stroke-linecap="round" fill="none" filter="url(#blurS)"/>
<ellipse cx="145" cy="259.6" rx="6.0" ry="3.4" fill="#000" opacity="1.0" filter="url(#blur0)"/>
<path d="M141.2 261.7h.01M148.2 258.0h.01M155.9 258.7h.01M157.4 259.1h.01M144.6 265.0h.01M142.3 258.2h.01M152.5 259.4h.01M147.4 255.9h.01M154.1 262.4h.01M146.8 261.6h.01M142.5 258.2h.01M137.0 260.6h.01M151.3 262.0h.01M149.7 261.6h.01M140.3 255.8h.01M148.3 260.0h.01M150.0 258.8h.01M140.5 260.8h.01M142.2 254.9h.01M141.9 257.0h.01M139.3 258.0h.01M153.8 258.4h.01M150.8 259.3h.01M147.0 257.6h.01M144.6 254.8h.01M154.1 257.4h.01M148.0 257.9h.01M146.4 256.2h.01M143.1 262.2h.01M148.0 254.0h.01M149.3 255.8h.01M146.5 261.0h.01M141.7 258.6h.01M143.7 260.7h.01M149.7 263.4h.01M146.7 265.2h.01M140.2 264.6h.01M143.7 261.7h.01M144.4 259.8h.01M140.3 260.7h.01M155.3 260.0h.01M144.9 259.6h.01M148.6 259.0h.01M145.0 260.2h.01M151.6 262.3h.01M139.6 257.7h.01M145.1 262.0h.01M149.9 259.0h.01M155.8 259.1h.01M152.2 263.6h.01M153.1 260.1h.01M147.9 255.2h.01M148.7 262.6h.01M144.5 262.5h.01M147.9 263.9h.01M136.9 257.2h.01M140.1 256.6h.01M153.4 256.9h.01M140.8 258.4h.01M149.5 258.2h.01M148.8 261.1h.01M141.7 252.8h.01M140.3 256.0h.01M153.3 257.5h.01M139.5 260.6h.01M145.3 256.9h.01M150.6 262.2h.01M146.4 257.4h.01M140.6 253.7h.01M147.0 260.7h.01M140.3 259.6h.01M161.7 256.3h.01M136.3 261.3h.01M142.8 258.1h.01M148.2 259.2h.01M150.1 261.0h.01M150.9 259.9h.01M136.3 262.5h.01M146.3 255.6h.01M145.3 262.1h.01M139.8 259.7h.01M141.2 256.7h.01M141.9 263.2h.01M148.5 259.5h.01M144.6 259.9h.01M146.5 260.1h.01M136.2 262.2h.01M148.6 256.1h.01M144.3 259.3h.01M142.0 261.1h.01M143.6 258.7h.01M140.1 258.7h.01M139.7 259.7h.01M151.8 262.4h.01M147.2 255.6h.01M150.3 262.2h.01M155.5 253.1h.01M145.1 258.6h.01M150.6 256.4h.01M150.1 253.8h.01M145.1 263.4h.01M141.8 261.2h.01M145.5 255.4h.01M141.8 262.8h.01M151.1 257.8h.01M150.8 257.5h.01M146.3 259.5h.01M138.6 260.4h.01M140.8 257.1h.01M140.7 256.7h.01M141.5 252.5h.01M149.6 259.7h.01M146.3 258.8h.01M145.3 258.8h.01M139.4 255.2h.01M145.4 262.4h.01M146.2 264.1h.01M138.0 258.8h.01M141.8 263.0h.01M153.7 258.0h.01M148.7 258.8h.01M139.9 259.2h.01M139.7 264.0h.01M148.0 262.9h.01M146.8 252.6h.01M149.1 259.8h.01M150.2 264.4h.01M139.8 261.8h.01M146.7 259.0h.01M143.6 261.0h.01M148.0 261.4h.01M142.9 255.7h.01M151.7 263.2h.01M142.1 259.4h.01M149.1 254.5h.01M146.4 257.5h.01M155.5 259.5h.01M146.1 258.3h.01M145.9 254.4h.01M138.4 255.3h.01M149.6 259.2h.01M150.9 253.7h.01M141.9 263.7h.01M140.9 254.2h.01M141.2 258.5h.01M144.9 263.3h.01M151.8 264.0h.01M148.0 258.1h.01M142.5 255.3h.01M151.5 263.1h.01M145.5 256.9h.01M148.5 260.9h.01M145.8 256.2h.01M146.2 257.9h.01M148.8 261.2h.01M147.3 258.3h.01M152.8 261.7h.01M151.5 261.9h.01M148.4 260.6h.01M139.5 254.3h.01M140.2 261.3h.01M149.7 260.0h.01M145.5 264.8h.01M143.0 254.4h.01M137.1 258.6h.01M148.6 261.6h.01M143.9 261.9h.01M144.8 257.4h.01M143.1 261.7h.01M149.9 256.3h.01M140.0 259.9h.01M155.8 256.1h.01M138.6 260.7h.01M147.6 257.7h.01M144.9 260.9h.01M136.1 259.4h.01M148.1 262.2h.01M150.9 259.3h.01M137.6 263.4h.01M148.9 257.7h.01M150.3 262.5h.01M144.3 252.7h.01M142.6 257.3h.01M140.7 259.3h.01M139.5 260.6h.01M154.6 256.1h.01M150.3 258.0h.01M147.8 259.1h.01M151.5 257.5h.01M148.7 257.3h.01M146.2 259.5h.01M150.5 255.0h.01M138.1 263.5h.01M147.0 264.4h.01M139.8 260.1h.01M148.1 264.6h.01M144.7 258.2h.01M148.6 259.2h.01M141.2 261.7h.01M151.9 258.1h.01M143.4 260.6h.01M150.7 261.0h.01M140.1 257.9h.01M150.3 259.2h.01M141.8 262.0h.01M150.8 265.8h.01M139.5 257.5h.01M141.5 260.5h.01M142.6 262.7h.01M141.7 258.7h.01M147.9 260.1h.01M139.9 263.8h.01M147.9 258.1h.01M146.1 256.3h.01M138.8 258.6h.01M146.9 259.8h.01M141.1 255.5h.01M136.5 264.1h.01M146.9 257.2h.01M151.0 261.1h.01M142.9 257.7h.01M150.8 260.4h.01M153.3 260.5h.01M142.0 257.8h.01M141.4 260.2h.01M146.3 261.2h.01M147.3 256.5h.01M144.0 256.8h.01M147.4 255.7h.01M142.1 257.0h.01M141.9 258.8h.01M152.7 258.8h.01M137.7 258.6h.01M148.8 261.1h.01M146.2 265.2h.01M150.6 259.8h.01M151.2 255.6h.01M144.1 257.0h.01M145.9 264.2h.01M142.5 264.1h.01M139.8 263.6h.01M136.4 257.1h.01M150.1 259.2h.01M145.7 259.5h.01M145.9 259.0h.01M140.1 258.7h.01M145.6 256.9h.01M147.4 264.6h.01M136.7 257.9h.01M143.6 259.6h.01M145.5 257.4h.01M144.8 259.5h.01M144.6 263.9h.01M145.7 255.2h.01M137.1 261.2h.01M143.3 257.7h.01M138.2 258.6h.01M144.5 257.5h.01M143.2 262.1h.01M149.0 261.1h.01M144.1 255.6h.01M148.9 263.8h.01M151.4 262.9h.01M146.4 260.6h.01M144.9 263.1h.01M143.6 265.7h.01M148.9 258.6h.01M145.0 254.9h.01M141.3 258.6h.01M157.4 257.2h.01M149.6 259.7h.01M143.5 261.3h.01M154.8 260.4h.01M144.7 260.0h.01M148.3 258.1h.01M145.6 261.0h.01M143.2 260.6h.01M146.7 261.6h.01M140.0 258.0h.01M142.8 262.9h.01M146.3 254.7h.01M138.6 265.1h.01M146.7 255.8h.01M140.4 259.9h.01M152.2 264.2h.01M143.2 258.6h.01M154.7 256.7h.01M152.9 260.5h.01M145.5 263.2h.01M147.4 257.1h.01M137.3 259.5h.01M147.6 263.4h.01M148.1 263.9h.01M149.0 260.1h.01M147.2 260.6h.01M141.8 259.2h.01M145.6 258.2h.01M137.6 255.3h.01M147.5 261.0h.01M145.5 256.1h.01M149.3 258.4h.01M137.5 266.0h.01M147.7 258.2h.01M152.5 263.4h.01M146.3 254.6h.01M143.1 258.7h.01M147.3 259.1h.01M146.7 254.8h.01M141.8 263.7h.01M137.7 262.2h.01M156.7 261.4h.01M138.0 263.1h.01M142.9 263.1h.01M151.0 260.0h.01M154.0 262.3h.01M142.6 256.7h.01M157.4 258.3h.01M147.1 259.2h.01M142.6 254.9h.01M144.3 259.2h.01M150.0 258.0h.01M137.1 256.4h.01M144.8 260.2h.01M148.7 258.4h.01M147.7 259.9h.01M153.5 259.3h.01M145.7 261.1h.01M151.2 256.8h.01M142.6 258.7h.01M150.4 259.6h.01M162.0 263.2h.01M155.2 264.0h.01M149.6 255.4h.01M152.7 260.7h.01M139.0 259.7h.01M148.8 262.3h.01M145.9 258.0h.01M148.9 257.3h.01M144.6 261.7h.01M137.7 260.6h.01M138.8 259.2h.01M148.6 259.4h.01M149.6 259.8h.01M144.0 260.9h.01M143.8 259.9h.01M150.3 257.9h.01M150.8 256.3h.01M143.9 254.5h.01M142.3 264.1h.01M146.8 263.2h.01M137.6 256.6h.01M147.4 261.9h.01M149.2 254.7h.01M147.6 259.3h.01M145.6 260.9h.01M143.6 254.6h.01M139.6 255.3h.01M138.3 259.1h.01M151.6 257.4h.01M141.1 256.2h.01M136.3 259.7h.01M142.5 258.8h.01M140.1 260.9h.01M138.9 261.1h.01M141.7 261.8h.01M140.5 260.8h.01M147.2 259.3h.01M153.3 260.0h.01M140.5 261.5h.01M140.8 257.9h.01M145.1 260.0h.01M153.6 254.4h.01M143.7 262.8h.01M144.2 260.4h.01M152.7 255.9h.01M145.2 261.8h.01M142.0 254.4h.01M139.9 260.1h.01M146.0 264.8h.01M151.7 255.0h.01M150.3 262.2h.01M153.2 259.1h.01M142.2 259.9h.01M152.8 261.3h.01M153.6 261.8h.01M142.0 256.6h.01M154.4 255.1h.01M143.2 258.6h.01M140.4 257.8h.01M144.7 258.0h.01M145.6 262.2h.01M140.9 258.3h.01M136.1 261.5h.01M148.4 263.9h.01M138.9 265.8h.01M149.4 258.7h.01M143.0 258.6h.01M138.9 261.7h.01M141.9 257.4h.01M147.6 259.8h.01M142.0 258.8h.01M142.5 263.4h.01M150.1 257.4h.01M144.8 263.5h.01M143.5 264.7h.01M147.3 261.4h.01M146.7 261.2h.01M147.4 261.0h.01M142.4 262.1h.01M145.3 256.5h.01M139.8 260.0h.01M146.7 253.1h.01M137.2 258.8h.01M142.0 261.1h.01M152.1 264.2h.01M139.9 263.1h.01M138.8 260.4h.01M145.9 261.3h.01M140.9 263.4h.01M144.7 259.4h.01M143.6 256.4h.01M148.7 260.5h.01M147.3 264.9h.01M140.6 258.7h.01M145.0 262.0h.01M144.1 262.2h.01M147.3 254.4h.01M141.5 253.6h.01M143.6 258.3h.01" stroke="#000" stroke-width="1.1" stroke-linecap="round" fill="none" filter="url(#blurS)"/>
<path d="M164.1 259.9h.01M162.7 262.2h.01M164.1 256.9h.01M161.3 260.2h.01M166.5 259.1h.01M162.4 260.1h.01M164.5 259.3h.01M163.4 258.6h.01M161.6 257.8h.01M164.2 258.3h.01M164.0 260.4h.01M164.9 253.8h.01M160.7 256.9h.01M162.4 261.2h.01M168.2 262.8h.01M165.7 260.3h.01M162.0 260.6h.01M158.1 261.5h.01M162.8 260.8h.01M160.6 257.2h.01M161.4 259.4h.01M163.6 258.7h.01M163.6 261.0h.01M160.3 259.3h.01M159.5 258.3h.01M164.7 258.0h.01M166.8 260.6h.01M164.7 259.7h.01M164.7 261.8h.01M163.0 258.4h.01M161.6 263.6h.01M162.4 258.5h.01M161.3 255.9h.01M161.7 260.2h.01M161.8 257.9h.01M163.7 260.5h.01M161.9 260.2h.01M160.7 261.3h.01M160.7 258.8h.01M163.1 258.6h.01M160.3 264.0h.01M166.1 255.8h.01M163.1 256.8h.01M163.5 256.7h.01M164.0 260.6h.01M166.5 262.1h.01M161.8 261.5h.01M161.8 259.3h.01M161.7 255.7h.01M164.1 255.1h.01M162.3 260.6h.01M163.0 256.1h.01M161.4 261.0h.01M165.2 262.9h.01M158.9 260.5h.01M161.8 261.1h.01M159.2 259.2h.01M164.3 258.1h.01M162.0 257.4h.01M165.2 256.7h.01M160.8 258.8h.01M162.1 264.0h.01M163.4 257.7h.01M164.0 260.2h.01M163.4 259.4h.01M163.8 257.0h.01M160.2 258.6h.01M160.4 261.0h.01M167.0 262.1h.01M163.8 260.2h.01M161.3 256.7h.01M164.0 256.3h.01M163.4 259.2h.01M164.4 259.6h.01M163.0 258.3h.01M159.1 258.8h.01M164.3 261.7h.01M165.8 257.4h.01M160.8 261.0h.01M161.8 265.0h.01M163.5 256.2h.01M161.6 262.9h.01M158.9 259.8h.01M159.8 262.9h.01M161.8 257.3h.01M159.1 258.0h.01M157.3 258.5h.01M167.5 259.7h.01M162.2 257.0h.01M163.5 258.5h.01M161.0 262.5h.01M163.7 257.6h.01M166.0 259.4h.01M163.9 259.8h.01M165.3 260.8h.01M162.1 261.0h.01M162.0 259.8h.01M166.3 257.2h.01M160.6 258.6h.01M161.7 262.3h.01M159.4 264.4h.01M166.2 258.5h.01M163.2 258.7h.01M164.2 260.9h.01M164.4 261.1h.01M167.0 259.1h.01M164.3 259.1h.01M162.9 260.0h.01M162.7 260.2h.01M161.0 259.2h.01M161.5 257.0h.01M161.3 258.4h.01M162.5 256.2h.01M162.2 257.1h.01M161.0 259.9h.01M165.2 260.1h.01M161.7 258.6h.01M165.7 256.0h.01M165.3 256.3h.01M161.4 259.6h.01M162.3 263.1h.01M163.9 259.4h.01M164.9 259.6h.01M161.1 261.9h.01M166.0 262.2h.01M160.3 263.6h.01M161.9 261.1h.01M165.4 264.6h.01M159.3 257.3h.01M165.3 260.6h.01M162.1 253.2h.01M163.7 259.1h.01M157.2 265.3h.01M157.4 258.3h.01M162.8 260.0h.01M164.4 258.9h.01M160.9 258.7h.01M158.3 257.1h.01M167.1 258.0h.01M162.6 263.6h.01" stroke="#000" stroke-width="1.1" stroke-linecap="round" fill="none" filter="url(#blurS)"/>
<line x1="122.4" y1="63.7" x2="122.4" y2="76.4" stroke="#888" stroke-width="1" stroke-dasharray="2.2 0.8"/>
<line x1="122.4" y1="146.5" x2="122.4" y2="159" stroke="#888" stroke-width="1" stroke-dasharray="2.2 0.8"/>
<text x="160.5" y="109" style="font-family:'Liberation Sans';font-size:3.5px" fill="#888">FL1-Annexin</text>
<text x="29.7" y="58.193000000000005" style="font-family:'Liberation Serif',serif;font-weight:bold;font-size:12.1px" text-anchor="start" fill="#000" >-0.3%</text>
<text x="77.2" y="58.193000000000005" style="font-family:'Liberation Serif',serif;font-weight:bold;font-size:12.1px" text-anchor="start" fill="#000" >1.9 %</text>
<text x="71.6" y="94.993" style="font-family:'Liberation Serif',serif;font-weight:bold;font-size:12.1px" text-anchor="start" fill="#000" >4.7%</text>
<text x="35.599999999999994" y="109.993" style="font-family:'Liberation Serif',serif;font-weight:bold;font-size:12.1px" text-anchor="start" fill="#000" >93.1%</text>
<text x="132.8" y="57.793000000000006" style="font-family:'Liberation Serif',serif;font-weight:bold;font-size:12.1px" text-anchor="start" fill="#000" >-0.6 %</text>
<text x="173.9" y="57.793000000000006" style="font-family:'Liberation Serif',serif;font-weight:bold;font-size:12.1px" text-anchor="start" fill="#000" >2.1 %</text>
<text x="174.8" y="94.29299999999999" style="font-family:'Liberation Serif',serif;font-weight:bold;font-size:12.1px" text-anchor="start" fill="#000" >7.8 %</text>
<text x="128.20000000000002" y="110.993" style="font-family:'Liberation Serif',serif;font-weight:bold;font-size:12.1px" text-anchor="start" fill="#000" >89.5%</text>
<text x="30.8" y="141.29299999999998" style="font-family:'Liberation Serif',serif;font-weight:bold;font-size:12.1px" text-anchor="start" fill="#000" >-1.2%</text>
<text x="66.7" y="141.29299999999998" style="font-family:'Liberation Serif',serif;font-weight:bold;font-size:12.1px" text-anchor="start" fill="#000" >1.1 %</text>
<text x="66.0" y="177.29299999999998" style="font-family:'Liberation Serif',serif;font-weight:bold;font-size:12.1px" text-anchor="start" fill="#000" >6.3 %</text>
<text x="35.199999999999996" y="197.493" style="font-family:'Liberation Serif',serif;font-weight:bold;font-size:12.1px" text-anchor="start" fill="#000" >91.4%</text>
<text x="128.9" y="141.493" style="font-family:'Liberation Serif',serif;font-weight:bold;font-size:12.1px" text-anchor="start" fill="#000" >-9.7%</text>
<text x="170.3" y="141.493" style="font-family:'Liberation Serif',serif;font-weight:bold;font-size:12.1px" text-anchor="start" fill="#000" >12.7 %</text>
<text x="175.70000000000002" y="177.093" style="font-family:'Liberation Serif',serif;font-weight:bold;font-size:12.1px" text-anchor="start" fill="#000" >31.9 %</text>
<text x="133.3" y="197.79299999999998" style="font-family:'Liberation Serif',serif;font-weight:bold;font-size:12.1px" text-anchor="start" fill="#000" >45.7%</text>
<text x="38.0" y="224.19299999999998" style="font-family:'Liberation Serif',serif;font-weight:bold;font-size:12.1px" text-anchor="start" fill="#000" >0.2%</text>
<text x="71.2" y="224.19299999999998" style="font-family:'Liberation Serif',serif;font-weight:bold;font-size:12.1px" text-anchor="start" fill="#000" >0.9 %</text>
<text x="66.5" y="259.993" style="font-family:'Liberation Serif',serif;font-weight:bold;font-size:12.1px" text-anchor="start" fill="#000" >12.1 %</text>
<text x="35.199999999999996" y="280.593" style="font-family:'Liberation Serif',serif;font-weight:bold;font-size:12.1px" text-anchor="start" fill="#000" >86.8%</text>
<text x="122.6" y="223.593" style="font-family:'Liberation Serif',serif;font-weight:bold;font-size:12.1px" text-anchor="start" fill="#000" >27.2%</text>
<text x="164.9" y="223.593" style="font-family:'Liberation Serif',serif;font-weight:bold;font-size:12.1px" text-anchor="start" fill="#000" >14.4%</text>
<text x="174.5" y="264.89300000000003" style="font-family:'Liberation Serif',serif;font-weight:bold;font-size:12.1px" text-anchor="start" fill="#000" >25.9 %</text>
<text x="133.3" y="285.39300000000003" style="font-family:'Liberation Serif',serif;font-weight:bold;font-size:12.1px" text-anchor="start" fill="#000" >32.5%</text>
<line x1="319" y1="37" x2="319" y2="161.0" stroke="#555" stroke-width="1" />
<line x1="318.5" y1="160.5" x2="515" y2="160.5" stroke="#555" stroke-width="1" />
<line x1="316" y1="160.5" x2="319" y2="160.5" stroke="#333" stroke-width="1" />
<line x1="316" y1="142.9" x2="319" y2="142.9" stroke="#333" stroke-width="1" />
<line x1="316" y1="125.3" x2="319" y2="125.3" stroke="#333" stroke-width="1" />
<line x1="316" y1="107.69999999999999" x2="319" y2="107.69999999999999" stroke="#333" stroke-width="1" />
<line x1="316" y1="90.1" x2="319" y2="90.1" stroke="#333" stroke-width="1" />
<line x1="316" y1="72.5" x2="319" y2="72.5" stroke="#333" stroke-width="1" />
<line x1="316" y1="54.89999999999999" x2="319" y2="54.89999999999999" stroke="#333" stroke-width="1" />
<line x1="316" y1="37.29999999999998" x2="319" y2="37.29999999999998" stroke="#333" stroke-width="1" />
<text x="311.3" y="21.5" style="font-family:'Liberation Serif',serif;font-weight:bold;font-size:10.5px" text-anchor="end" fill="#000" >140</text>
<text x="311.3" y="42.0" style="font-family:'Liberation Serif',serif;font-weight:bold;font-size:10.5px" text-anchor="end" fill="#000" >120</text>
<text x="311.3" y="61.0" style="font-family:'Liberation Serif',serif;font-weight:bold;font-size:10.5px" text-anchor="end" fill="#000" >100</text>
<text x="311.3" y="80.0" style="font-family:'Liberation Serif',serif;font-weight:bold;font-size:10.5px" text-anchor="end" fill="#000" >80</text>
<text x="311.3" y="100.5" style="font-family:'Liberation Serif',serif;font-weight:bold;font-size:10.5px" text-anchor="end" fill="#000" >60</text>
<text x="311.3" y="119.7" style="font-family:'Liberation Serif',serif;font-weight:bold;font-size:10.5px" text-anchor="end" fill="#000" >40</text>
<text x="311.3" y="139.5" style="font-family:'Liberation Serif',serif;font-weight:bold;font-size:10.5px" text-anchor="end" fill="#000" >20</text>
<text x="311.3" y="159.0" style="font-family:'Liberation Serif',serif;font-weight:bold;font-size:10.5px" text-anchor="end" fill="#000" >0</text>
<rect x="329.5" y="68.4" width="15.0" height="92.1" fill="#fff" stroke="#555" stroke-width="0.9"/>
<line x1="337.0" y1="58.75" x2="337.0" y2="77" stroke="#555" stroke-width="0.9" />
<line x1="335.7" y1="58.75" x2="338.3" y2="58.75" stroke="#555" stroke-width="1" />
<line x1="335.7" y1="77" x2="338.3" y2="77" stroke="#555" stroke-width="1" />
<rect x="344.5" y="70.4" width="14.5" height="90.1" fill="#bebebe" stroke="#555" stroke-width="0.9"/>
<line x1="351.75" y1="59.5" x2="351.75" y2="80.5" stroke="#555" stroke-width="0.9" />
<line x1="350.45" y1="59.5" x2="353.05" y2="59.5" stroke="#555" stroke-width="1" />
<line x1="350.45" y1="80.5" x2="353.05" y2="80.5" stroke="#555" stroke-width="1" />
<rect x="359" y="69.15" width="15.5" height="91.35" fill="#000" stroke="#000" stroke-width="0.9"/>
<line x1="366.75" y1="60" x2="366.75" y2="69.25" stroke="#555" stroke-width="0.9" />
<line x1="365.45" y1="60" x2="368.05" y2="60" stroke="#555" stroke-width="1" />
<rect x="395.3" y="79.65" width="15.199999999999989" height="80.85" fill="#fff" stroke="#555" stroke-width="0.9"/>
<line x1="402.9" y1="63.5" x2="402.9" y2="94.5" stroke="#555" stroke-width="0.9" />
<line x1="401.59999999999997" y1="63.5" x2="404.2" y2="63.5" stroke="#555" stroke-width="1" />
<line x1="401.59999999999997" y1="94.5" x2="404.2" y2="94.5" stroke="#555" stroke-width="1" />
<rect x="410.5" y="81.9" width="14.5" height="78.6" fill="#bebebe" stroke="#555" stroke-width="0.9"/>
<line x1="417.75" y1="68" x2="417.75" y2="96.25" stroke="#555" stroke-width="0.9" />
<line x1="416.45" y1="68" x2="419.05" y2="68" stroke="#555" stroke-width="1" />
<line x1="416.45" y1="96.25" x2="419.05" y2="96.25" stroke="#555" stroke-width="1" />
<rect x="425" y="83.4" width="14.5" height="77.1" fill="#000" stroke="#000" stroke-width="0.9"/>
<line x1="432.25" y1="67" x2="432.25" y2="83.5" stroke="#555" stroke-width="0.9" />
<line x1="430.95" y1="67" x2="433.55" y2="67" stroke="#555" stroke-width="1" />
<rect x="460.5" y="89.9" width="15.0" height="70.6" fill="#fff" stroke="#555" stroke-width="0.9"/>
<line x1="468.0" y1="68" x2="468.0" y2="111.25" stroke="#555" stroke-width="0.9" />
<line x1="466.7" y1="68" x2="469.3" y2="68" stroke="#555" stroke-width="1" />
<line x1="466.7" y1="111.25" x2="469.3" y2="111.25" stroke="#555" stroke-width="1" />
<rect x="475.5" y="91.15" width="15.0" height="69.35" fill="#bebebe" stroke="#555" stroke-width="0.9"/>
<line x1="483.0" y1="71" x2="483.0" y2="110.5" stroke="#555" stroke-width="0.9" />
<line x1="481.7" y1="71" x2="484.3" y2="71" stroke="#555" stroke-width="1" />
<line x1="481.7" y1="110.5" x2="484.3" y2="110.5" stroke="#555" stroke-width="1" />
<rect x="490.5" y="91.9" width="14.5" height="68.6" fill="#000" stroke="#000" stroke-width="0.9"/>
<line x1="497.75" y1="72.5" x2="497.75" y2="92.0" stroke="#555" stroke-width="0.9" />
<line x1="496.45" y1="72.5" x2="499.05" y2="72.5" stroke="#555" stroke-width="1" />
<text x="352.1" y="172.3" style="font-family:'Liberation Serif',serif;font-weight:bold;font-size:11.2px" text-anchor="middle" fill="#000" letter-spacing="0.6">24</text>
<text x="420.2" y="172.3" style="font-family:'Liberation Serif',serif;font-weight:bold;font-size:11.2px" text-anchor="middle" fill="#000" letter-spacing="0.6">48</text>
<text x="486.7" y="172.3" style="font-family:'Liberation Serif',serif;font-weight:bold;font-size:11.2px" text-anchor="middle" fill="#000" letter-spacing="0.6">72</text>
<text x="384.2" y="188.3" style="font-family:'Liberation Serif',serif;font-weight:bold;font-size:10.7px" text-anchor="start" fill="#000" >Time in hours</text>
<rect x="456.3" y="9.7" width="7.8" height="7.0" fill="#fff" stroke="#666" stroke-width="1" />
<text x="468.9" y="16.6" style="font-family:'Liberation Serif',serif;font-weight:bold;font-size:10.4px" text-anchor="start" fill="#000" >50 ng/mL</text>
<rect x="456.3" y="21.299999999999997" width="7.8" height="7.0" fill="#c8c8c8" stroke="#666" stroke-width="1" />
<text x="468.9" y="28.199999999999996" style="font-family:'Liberation Serif',serif;font-weight:bold;font-size:10.4px" text-anchor="start" fill="#000" >100 ng/mL</text>
<rect x="456.3" y="32.9" width="7.8" height="7.0" fill="#000" stroke="#000" stroke-width="1" />
<text x="468.9" y="39.8" style="font-family:'Liberation Serif',serif;font-weight:bold;font-size:10.4px" text-anchor="start" fill="#000" >200 ng/mL</text>
<text transform="translate(276.5,93.80) rotate(-90)" style="font-family:'Liberation Serif',serif;font-weight:bold;font-size:10.5px;letter-spacing:0.794px" text-anchor="middle">% Viable cells</text>
<text transform="translate(286.4,92.41) rotate(-90)" style="font-family:'Liberation Serif',serif;font-weight:bold;font-size:10.8px;letter-spacing:0.215px" text-anchor="middle">(normalized to media )</text>
<rect x="312.1" y="222.7" width="199.29999999999995" height="97.10000000000002" fill="none" stroke="#808080" stroke-width="1.2" />
<line x1="312.1" y1="222.7" x2="312.1" y2="322.8" stroke="#888" stroke-width="1" />
<line x1="309.1" y1="319.8" x2="511.4" y2="319.8" stroke="#333" stroke-width="1" />
<line x1="309.1" y1="319.8" x2="312.1" y2="319.8" stroke="#777" stroke-width="1" />
<text x="308.4" y="323.6" style="font-family:'Liberation Serif',serif;font-weight:bold;font-size:9.8px" text-anchor="end" fill="#000" >0</text>
<line x1="309.1" y1="305.92857142857144" x2="312.1" y2="305.92857142857144" stroke="#777" stroke-width="1" />
<text x="308.4" y="312.2" style="font-family:'Liberation Serif',serif;font-weight:bold;font-size:9.8px" text-anchor="end" fill="#000" >20</text>
<line x1="309.1" y1="292.0571428571429" x2="312.1" y2="292.0571428571429" stroke="#777" stroke-width="1" />
<text x="308.4" y="297.6" style="font-family:'Liberation Serif',serif;font-weight:bold;font-size:9.8px" text-anchor="end" fill="#000" >40</text>
<line x1="309.1" y1="278.1857142857143" x2="312.1" y2="278.1857142857143" stroke="#777" stroke-width="1" />
<text x="308.4" y="283.3" style="font-family:'Liberation Serif',serif;font-weight:bold;font-size:9.8px" text-anchor="end" fill="#000" >60</text>
<line x1="309.1" y1="264.3142857142857" x2="312.1" y2="264.3142857142857" stroke="#777" stroke-width="1" />
<text x="308.4" y="269.1" style="font-family:'Liberation Serif',serif;font-weight:bold;font-size:9.8px" text-anchor="end" fill="#000" >80</text>
<line x1="309.1" y1="250.44285714285712" x2="312.1" y2="250.44285714285712" stroke="#777" stroke-width="1" />
<text x="308.4" y="254.5" style="font-family:'Liberation Serif',serif;font-weight:bold;font-size:9.8px" text-anchor="end" fill="#000" >100</text>
<line x1="309.1" y1="236.57142857142856" x2="312.1" y2="236.57142857142856" stroke="#777" stroke-width="1" />
<text x="308.4" y="240.3" style="font-family:'Liberation Serif',serif;font-weight:bold;font-size:9.8px" text-anchor="end" fill="#000" >120</text>
<line x1="309.1" y1="222.7" x2="312.1" y2="222.7" stroke="#777" stroke-width="1" />
<text x="308.4" y="226.8" style="font-family:'Liberation Serif',serif;font-weight:bold;font-size:9.8px" text-anchor="end" fill="#000" >140</text>
<line x1="312.1" y1="319.8" x2="312.1" y2="322.8" stroke="#333" stroke-width="1" />
<text x="313.6" y="330.6" style="font-family:'Liberation Serif',serif;font-weight:bold;font-size:10.2px" text-anchor="middle" fill="#000" >0</text>
<line x1="351.96000000000004" y1="319.8" x2="351.96000000000004" y2="322.8" stroke="#333" stroke-width="1" />
<text x="351.96000000000004" y="330.6" style="font-family:'Liberation Serif',serif;font-weight:bold;font-size:10.2px" text-anchor="middle" fill="#000" >20</text>
<line x1="391.82" y1="319.8" x2="391.82" y2="322.8" stroke="#333" stroke-width="1" />
<text x="391.82" y="330.6" style="font-family:'Liberation Serif',serif;font-weight:bold;font-size:10.2px" text-anchor="middle" fill="#000" >40</text>
<line x1="431.68" y1="319.8" x2="431.68" y2="322.8" stroke="#333" stroke-width="1" />
<text x="431.68" y="330.6" style="font-family:'Liberation Serif',serif;font-weight:bold;font-size:10.2px" text-anchor="middle" fill="#000" >60</text>
<line x1="471.53999999999996" y1="319.8" x2="471.53999999999996" y2="322.8" stroke="#333" stroke-width="1" />
<text x="471.53999999999996" y="330.6" style="font-family:'Liberation Serif',serif;font-weight:bold;font-size:10.2px" text-anchor="middle" fill="#000" >80</text>
<line x1="511.4" y1="319.8" x2="511.4" y2="322.8" stroke="#333" stroke-width="1" />
<text x="511.4" y="330.6" style="font-family:'Liberation Serif',serif;font-weight:bold;font-size:10.2px" text-anchor="middle" fill="#000" >100</text>
<path d="M338.7 231.9 L340.5 235.3 L336.9 235.3 Z" fill="#000"/>
<path d="M370.4 247.8 L372.2 251.2 L368.6 251.2 Z" fill="#000"/>
<path d="M374.1 247.8 L375.9 251.2 L372.3 251.2 Z" fill="#000"/>
<path d="M381.1 253.0 L382.9 256.4 L379.3 256.4 Z" fill="#000"/>
<path d="M396.9 259.1 L398.7 262.5 L395.1 262.5 Z" fill="#000"/>
<path d="M388.6 273.2 L390.4 276.6 L386.8 276.6 Z" fill="#000"/>
<path d="M416.5 247.5 L418.3 250.9 L414.7 250.9 Z" fill="#000"/>
<path d="M419.1 281.6 L420.9 285.0 L417.3 285.0 Z" fill="#000"/>
<path d="M407.3 286.5 L409.1 289.9 L405.5 289.9 Z" fill="#000"/>
<path d="M404.4 292.5 L406.2 295.9 L402.6 295.9 Z" fill="#000"/>
<path d="M431.8 293.4 L433.6 296.8 L430.0 296.8 Z" fill="#000"/>
<path d="M440.8 271.5 L442.6 274.9 L439.0 274.9 Z" fill="#000"/>
<path d="M446.0 278.4 L447.8 281.8 L444.2 281.8 Z" fill="#000"/>
<path d="M471.3 274.9 L473.1 278.3 L469.5 278.3 Z" fill="#000"/>
<line x1="338.7" y1="244.8" x2="471.3" y2="291.5" stroke="#000" stroke-width="1.1" />
<text x="441.3" y="244.0" style="font-family:'Liberation Serif',serif;font-weight:bold;font-size:9.8px" text-anchor="start" fill="#000" >R = -0.65</text>
<text x="348.8" y="343.8" style="font-family:'Liberation Serif',serif;font-weight:bold;font-size:10.9px">%IL-21 Receptor<tspan dy="-4.2" style="font-size:7px">+</tspan><tspan dy="4.2"> Cells</tspan></text>
<text transform="translate(276.6,272.73) rotate(-90)" style="font-family:'Liberation Serif',serif;font-weight:bold;font-size:10.5px;letter-spacing:0.663px" text-anchor="middle">% Viable cells</text>
<text transform="translate(286.5,271.55) rotate(-90)" style="font-family:'Liberation Serif',serif;font-weight:bold;font-size:10.8px;letter-spacing:0.292px" text-anchor="middle">(normalized to media )</text>
<line x1="41.8" y1="333" x2="41.8" y2="483.25" stroke="#666" stroke-width="1" />
<line x1="40" y1="483.25" x2="252.5" y2="483.25" stroke="#444" stroke-width="1" />
<line x1="38.8" y1="483.25" x2="41.8" y2="483.25" stroke="#333" stroke-width="1" />
<text x="35.1" y="489.3" style="font-family:'Liberation Serif',serif;font-weight:bold;font-size:10px" text-anchor="middle" fill="#000" >0</text>
<line x1="38.8" y1="461.75" x2="41.8" y2="461.75" stroke="#333" stroke-width="1" />
<text x="40.0" y="465.15" style="font-family:'Liberation Serif',serif;font-weight:bold;font-size:10px" text-anchor="end" fill="#000" >20</text>
<line x1="38.8" y1="440.25" x2="41.8" y2="440.25" stroke="#333" stroke-width="1" />
<text x="40.0" y="443.65" style="font-family:'Liberation Serif',serif;font-weight:bold;font-size:10px" text-anchor="end" fill="#000" >40</text>
<line x1="38.8" y1="418.75" x2="41.8" y2="418.75" stroke="#333" stroke-width="1" />
<text x="40.0" y="422.15" style="font-family:'Liberation Serif',serif;font-weight:bold;font-size:10px" text-anchor="end" fill="#000" >60</text>
<line x1="38.8" y1="397.25" x2="41.8" y2="397.25" stroke="#333" stroke-width="1" />
<text x="40.0" y="400.65" style="font-family:'Liberation Serif',serif;font-weight:bold;font-size:10px" text-anchor="end" fill="#000" >80</text>
<line x1="38.8" y1="375.75" x2="41.8" y2="375.75" stroke="#333" stroke-width="1" />
<text x="40.0" y="379.15" style="font-family:'Liberation Serif',serif;font-weight:bold;font-size:10px" text-anchor="end" fill="#000" >100</text>
<line x1="38.8" y1="354.25" x2="41.8" y2="354.25" stroke="#333" stroke-width="1" />
<text x="40.0" y="357.65" style="font-family:'Liberation Serif',serif;font-weight:bold;font-size:10px" text-anchor="end" fill="#000" >120</text>
<line x1="38.8" y1="332.75" x2="41.8" y2="332.75" stroke="#333" stroke-width="1" />
<text x="40.0" y="336.15" style="font-family:'Liberation Serif',serif;font-weight:bold;font-size:10px" text-anchor="end" fill="#000" >140</text>
<rect x="46.2" y="372.7" width="5.799999999999997" height="110.54999999999998" fill="#fff" stroke="#555" stroke-width="0.9"/>
<line x1="49.1" y1="366.9" x2="49.1" y2="379.2" stroke="#555" stroke-width="0.9" />
<line x1="47.800000000000004" y1="366.9" x2="50.4" y2="366.9" stroke="#555" stroke-width="1" />
<line x1="47.800000000000004" y1="379.2" x2="50.4" y2="379.2" stroke="#555" stroke-width="1" />
<rect x="52" y="371.2" width="6.799999999999997" height="112.04999999999998" fill="#c0c0c0" stroke="#555" stroke-width="0.9"/>
<line x1="55.4" y1="357.7" x2="55.4" y2="384.2" stroke="#555" stroke-width="0.9" />
<line x1="54.1" y1="357.7" x2="56.699999999999996" y2="357.7" stroke="#555" stroke-width="1" />
<line x1="54.1" y1="384.2" x2="56.699999999999996" y2="384.2" stroke="#555" stroke-width="1" />
<rect x="58.8" y="377.4" width="5.0" height="105.85" fill="#000" stroke="#000" stroke-width="0.9"/>
<line x1="61.3" y1="360" x2="61.3" y2="377.5" stroke="#555" stroke-width="0.9" />
<line x1="60.0" y1="360" x2="62.599999999999994" y2="360" stroke="#555" stroke-width="1" />
<rect x="72.3" y="374.59999999999997" width="6.200000000000003" height="108.65" fill="#fff" stroke="#555" stroke-width="0.9"/>
<line x1="75.4" y1="371.2" x2="75.4" y2="376.9" stroke="#555" stroke-width="0.9" />
<line x1="74.10000000000001" y1="371.2" x2="76.7" y2="371.2" stroke="#555" stroke-width="1" />
<line x1="74.10000000000001" y1="376.9" x2="76.7" y2="376.9" stroke="#555" stroke-width="1" />
<rect x="78.5" y="376.9" width="5.700000000000003" height="106.35" fill="#c0c0c0" stroke="#555" stroke-width="0.9"/>
<line x1="81.35" y1="365.4" x2="81.35" y2="388" stroke="#555" stroke-width="0.9" />
<line x1="80.05" y1="365.4" x2="82.64999999999999" y2="365.4" stroke="#555" stroke-width="1" />
<line x1="80.05" y1="388" x2="82.64999999999999" y2="388" stroke="#555" stroke-width="1" />
<rect x="84.2" y="374.59999999999997" width="5.799999999999997" height="108.65" fill="#000" stroke="#000" stroke-width="0.9"/>
<line x1="87.1" y1="358.2" x2="87.1" y2="374.7" stroke="#555" stroke-width="0.9" />
<line x1="85.8" y1="358.2" x2="88.39999999999999" y2="358.2" stroke="#555" stroke-width="1" />
<rect x="98.5" y="372.7" width="6.099999999999994" height="110.54999999999998" fill="#fff" stroke="#555" stroke-width="0.9"/>
<line x1="101.55" y1="368.5" x2="101.55" y2="377.4" stroke="#555" stroke-width="0.9" />
<line x1="100.25" y1="368.5" x2="102.85" y2="368.5" stroke="#555" stroke-width="1" />
<line x1="100.25" y1="377.4" x2="102.85" y2="377.4" stroke="#555" stroke-width="1" />
<rect x="104.6" y="376.59999999999997" width="5.700000000000003" height="106.65" fill="#c0c0c0" stroke="#555" stroke-width="0.9"/>
<line x1="107.44999999999999" y1="360.8" x2="107.44999999999999" y2="392" stroke="#555" stroke-width="0.9" />
<line x1="106.14999999999999" y1="360.8" x2="108.74999999999999" y2="360.8" stroke="#555" stroke-width="1" />
<line x1="106.14999999999999" y1="392" x2="108.74999999999999" y2="392" stroke="#555" stroke-width="1" />
<rect x="110.3" y="376.59999999999997" width="5.900000000000006" height="106.65" fill="#000" stroke="#000" stroke-width="0.9"/>
<line x1="113.25" y1="358.2" x2="113.25" y2="376.7" stroke="#555" stroke-width="0.9" />
<line x1="111.95" y1="358.2" x2="114.55" y2="358.2" stroke="#555" stroke-width="1" />
<rect x="124.2" y="372.59999999999997" width="6.299999999999997" height="110.65" fill="#fff" stroke="#555" stroke-width="0.9"/>
<line x1="127.35" y1="369.7" x2="127.35" y2="376.4" stroke="#555" stroke-width="0.9" />
<line x1="126.05" y1="369.7" x2="128.65" y2="369.7" stroke="#555" stroke-width="1" />
<line x1="126.05" y1="376.4" x2="128.65" y2="376.4" stroke="#555" stroke-width="1" />
<rect x="130.5" y="381.59999999999997" width="6.099999999999994" height="101.65" fill="#c0c0c0" stroke="#555" stroke-width="0.9"/>
<line x1="133.55" y1="368.3" x2="133.55" y2="395.1" stroke="#555" stroke-width="0.9" />
<line x1="132.25" y1="368.3" x2="134.85000000000002" y2="368.3" stroke="#555" stroke-width="1" />
<line x1="132.25" y1="395.1" x2="134.85000000000002" y2="395.1" stroke="#555" stroke-width="1" />
<rect x="136.6" y="376.79999999999995" width="5.900000000000006" height="106.45000000000002" fill="#000" stroke="#000" stroke-width="0.9"/>
<line x1="139.55" y1="359" x2="139.55" y2="376.9" stroke="#555" stroke-width="0.9" />
<line x1="138.25" y1="359" x2="140.85000000000002" y2="359" stroke="#555" stroke-width="1" />
<rect x="150.5" y="376.5" width="5.900000000000006" height="106.74999999999997" fill="#fff" stroke="#555" stroke-width="0.9"/>
<line x1="153.45" y1="372.5" x2="153.45" y2="379.8" stroke="#555" stroke-width="0.9" />
<line x1="152.14999999999998" y1="372.5" x2="154.75" y2="372.5" stroke="#555" stroke-width="1" />
<line x1="152.14999999999998" y1="379.8" x2="154.75" y2="379.8" stroke="#555" stroke-width="1" />
<rect x="156.4" y="392.59999999999997" width="6.299999999999983" height="90.65" fill="#c0c0c0" stroke="#555" stroke-width="0.9"/>
<line x1="159.55" y1="376.4" x2="159.55" y2="407.8" stroke="#555" stroke-width="0.9" />
<line x1="158.25" y1="376.4" x2="160.85000000000002" y2="376.4" stroke="#555" stroke-width="1" />
<line x1="158.25" y1="407.8" x2="160.85000000000002" y2="407.8" stroke="#555" stroke-width="1" />
<rect x="162.7" y="420.4" width="5.600000000000023" height="62.85" fill="#000" stroke="#000" stroke-width="0.9"/>
<line x1="165.5" y1="399" x2="165.5" y2="420.5" stroke="#555" stroke-width="0.9" />
<line x1="164.2" y1="399" x2="166.8" y2="399" stroke="#555" stroke-width="1" />
<rect x="176.4" y="375.09999999999997" width="6.299999999999983" height="108.15" fill="#fff" stroke="#555" stroke-width="0.9"/>
<line x1="179.55" y1="370.5" x2="179.55" y2="379.8" stroke="#555" stroke-width="0.9" />
<line x1="178.25" y1="370.5" x2="180.85000000000002" y2="370.5" stroke="#555" stroke-width="1" />
<line x1="178.25" y1="379.8" x2="180.85000000000002" y2="379.8" stroke="#555" stroke-width="1" />
<rect x="182.7" y="400.9" width="5.900000000000006" height="82.35" fill="#c0c0c0" stroke="#555" stroke-width="0.9"/>
<line x1="185.64999999999998" y1="386.3" x2="185.64999999999998" y2="415.9" stroke="#555" stroke-width="0.9" />
<line x1="184.34999999999997" y1="386.3" x2="186.95" y2="386.3" stroke="#555" stroke-width="1" />
<line x1="184.34999999999997" y1="415.9" x2="186.95" y2="415.9" stroke="#555" stroke-width="1" />
<rect x="188.6" y="418.7" width="6.0" height="64.54999999999998" fill="#000" stroke="#000" stroke-width="0.9"/>
<line x1="191.6" y1="395.1" x2="191.6" y2="418.8" stroke="#555" stroke-width="0.9" />
<line x1="190.29999999999998" y1="395.1" x2="192.9" y2="395.1" stroke="#555" stroke-width="1" />
<rect x="202.1" y="380.7" width="6.400000000000006" height="102.54999999999998" fill="#fff" stroke="#555" stroke-width="0.9"/>
<line x1="205.3" y1="376.4" x2="205.3" y2="384.3" stroke="#555" stroke-width="0.9" />
<line x1="204.0" y1="376.4" x2="206.60000000000002" y2="376.4" stroke="#555" stroke-width="1" />
<line x1="204.0" y1="384.3" x2="206.60000000000002" y2="384.3" stroke="#555" stroke-width="1" />
<rect x="208.5" y="405.2" width="6.300000000000011" height="78.04999999999998" fill="#c0c0c0" stroke="#555" stroke-width="0.9"/>
<line x1="211.65" y1="389.1" x2="211.65" y2="421.2" stroke="#555" stroke-width="0.9" />
<line x1="210.35" y1="389.1" x2="212.95000000000002" y2="389.1" stroke="#555" stroke-width="1" />
<line x1="210.35" y1="421.2" x2="212.95000000000002" y2="421.2" stroke="#555" stroke-width="1" />
<rect x="214.8" y="424.2" width="5.899999999999977" height="59.04999999999999" fill="#000" stroke="#000" stroke-width="0.9"/>
<line x1="217.75" y1="404" x2="217.75" y2="424.3" stroke="#555" stroke-width="0.9" />
<line x1="216.45" y1="404" x2="219.05" y2="404" stroke="#555" stroke-width="1" />
<rect x="228.9" y="378.5" width="6.400000000000006" height="104.74999999999997" fill="#fff" stroke="#555" stroke-width="0.9"/>
<line x1="232.10000000000002" y1="365.4" x2="232.10000000000002" y2="391.1" stroke="#555" stroke-width="0.9" />
<line x1="230.8" y1="365.4" x2="233.40000000000003" y2="365.4" stroke="#555" stroke-width="1" />
<line x1="230.8" y1="391.1" x2="233.40000000000003" y2="391.1" stroke="#555" stroke-width="1" />
<rect x="235.3" y="400.5" width="5.699999999999989" height="82.74999999999997" fill="#c0c0c0" stroke="#555" stroke-width="0.9"/>
<line x1="238.15" y1="381.5" x2="238.15" y2="419.6" stroke="#555" stroke-width="0.9" />
<line x1="236.85" y1="381.5" x2="239.45000000000002" y2="381.5" stroke="#555" stroke-width="1" />
<line x1="236.85" y1="419.6" x2="239.45000000000002" y2="419.6" stroke="#555" stroke-width="1" />
<rect x="241" y="428.4" width="5.599999999999994" height="54.85" fill="#000" stroke="#000" stroke-width="0.9"/>
<line x1="243.8" y1="408.6" x2="243.8" y2="428.5" stroke="#555" stroke-width="0.9" />
<line x1="242.5" y1="408.6" x2="245.10000000000002" y2="408.6" stroke="#555" stroke-width="1" />
<text x="57.5" y="493.1" style="font-family:'Liberation Serif',serif;font-weight:bold;font-size:10.2px" text-anchor="middle" fill="#000" >0.1</text>
<text x="83.8" y="493.1" style="font-family:'Liberation Serif',serif;font-weight:bold;font-size:10.2px" text-anchor="middle" fill="#000" >1</text>
<text x="110.2" y="493.1" style="font-family:'Liberation Serif',serif;font-weight:bold;font-size:10.2px" text-anchor="middle" fill="#000" >5</text>
<text x="135.5" y="493.1" style="font-family:'Liberation Serif',serif;font-weight:bold;font-size:10.2px" text-anchor="middle" fill="#000" >10</text>
<text x="161.3" y="493.1" style="font-family:'Liberation Serif',serif;font-weight:bold;font-size:10.2px" text-anchor="middle" fill="#000" >25</text>
<text x="188" y="493.1" style="font-family:'Liberation Serif',serif;font-weight:bold;font-size:10.2px" text-anchor="middle" fill="#000" >50</text>
<text x="212.5" y="493.1" style="font-family:'Liberation Serif',serif;font-weight:bold;font-size:10.2px" text-anchor="middle" fill="#000" >100</text>
<text x="239.3" y="493.1" style="font-family:'Liberation Serif',serif;font-weight:bold;font-size:10.2px" text-anchor="middle" fill="#000" >200</text>
<text x="74.3" y="505" style="font-family:'Liberation Serif',serif;font-weight:bold;font-size:11.1px" text-anchor="start" fill="#000" >IL-21 Concentration in ng/mL</text>
<rect x="189.7" y="323.0" width="7.7" height="7.3" fill="#fff" stroke="#777" stroke-width="1" />
<text x="205.3" y="330.6" style="font-family:'Liberation Serif',serif;font-weight:bold;font-size:10px" text-anchor="start" fill="#000" >24 Hr</text>
<rect x="189.7" y="334.35" width="7.7" height="7.3" fill="#c8c8c8" stroke="#777" stroke-width="1" />
<text x="205.3" y="341.95000000000005" style="font-family:'Liberation Serif',serif;font-weight:bold;font-size:10px" text-anchor="start" fill="#000" >48 Hr</text>
<rect x="189.7" y="345.7" width="7.7" height="7.3" fill="#000" stroke="#000" stroke-width="1" />
<text x="205.3" y="353.3" style="font-family:'Liberation Serif',serif;font-weight:bold;font-size:10px" text-anchor="start" fill="#000" >72 Hr</text>
<text transform="translate(9.5,413.36) rotate(-90)" style="font-family:'Liberation Serif',serif;font-weight:bold;font-size:10.5px;letter-spacing:0.725px" text-anchor="middle">% Viable cells</text>
<text transform="translate(19.9,412.06) rotate(-90)" style="font-family:'Liberation Serif',serif;font-weight:bold;font-size:10.8px;letter-spacing:0.311px" text-anchor="middle">(normalized to media )</text>
<line x1="310.3" y1="392.6" x2="310.3" y2="558" stroke="#666" stroke-width="1" />
<line x1="307.3" y1="558" x2="512" y2="558" stroke="#333" stroke-width="1" />
<line x1="307.3" y1="558.0" x2="310.3" y2="558.0" stroke="#333" stroke-width="1" />
<text x="305.6" y="561.5" style="font-family:'Liberation Serif',serif;font-weight:bold;font-size:10.5px" text-anchor="end" fill="#000" >0</text>
<line x1="307.3" y1="530.68" x2="310.3" y2="530.68" stroke="#333" stroke-width="1" />
<text x="305.6" y="534.18" style="font-family:'Liberation Serif',serif;font-weight:bold;font-size:10.5px" text-anchor="end" fill="#000" >20</text>
<line x1="307.3" y1="503.36" x2="310.3" y2="503.36" stroke="#333" stroke-width="1" />
<text x="305.6" y="506.86" style="font-family:'Liberation Serif',serif;font-weight:bold;font-size:10.5px" text-anchor="end" fill="#000" >40</text>
<line x1="307.3" y1="476.03999999999996" x2="310.3" y2="476.03999999999996" stroke="#333" stroke-width="1" />
<text x="305.6" y="479.53999999999996" style="font-family:'Liberation Serif',serif;font-weight:bold;font-size:10.5px" text-anchor="end" fill="#000" >60</text>
<line x1="307.3" y1="448.72" x2="310.3" y2="448.72" stroke="#333" stroke-width="1" />
<text x="305.6" y="452.22" style="font-family:'Liberation Serif',serif;font-weight:bold;font-size:10.5px" text-anchor="end" fill="#000" >80</text>
<line x1="307.3" y1="421.4" x2="310.3" y2="421.4" stroke="#333" stroke-width="1" />
<text x="305.6" y="424.9" style="font-family:'Liberation Serif',serif;font-weight:bold;font-size:10.5px" text-anchor="end" fill="#000" >100</text>
<line x1="307.3" y1="394.08" x2="310.3" y2="394.08" stroke="#333" stroke-width="1" />
<text x="305.6" y="397.58" style="font-family:'Liberation Serif',serif;font-weight:bold;font-size:10.5px" text-anchor="end" fill="#000" >120</text>
<rect x="319.0" y="415.29999999999995" width="13.100000000000023" height="142.70000000000002" fill="url(#hstripe)" stroke="#333" stroke-width="0.9"/>
<line x1="325.55" y1="407.1" x2="325.55" y2="424" stroke="#666" stroke-width="1.1" />
<line x1="323.85" y1="407.1" x2="327.25" y2="407.1" stroke="#666" stroke-width="1" />
<line x1="323.85" y1="424" x2="327.25" y2="424" stroke="#666" stroke-width="1" />
<rect x="332.1" y="413.5" width="12.5" height="144.49999999999997" fill="url(#diag)" stroke="#333" stroke-width="0.9"/>
<line x1="338.35" y1="406.3" x2="338.35" y2="419.6" stroke="#666" stroke-width="1.1" />
<line x1="336.65000000000003" y1="406.3" x2="340.05" y2="406.3" stroke="#666" stroke-width="1" />
<line x1="336.65000000000003" y1="419.6" x2="340.05" y2="419.6" stroke="#666" stroke-width="1" />
<rect x="344.6" y="420.5" width="12.399999999999977" height="137.49999999999997" fill="url(#xhatch)" stroke="#333" stroke-width="0.9"/>
<line x1="350.8" y1="403.2" x2="350.8" y2="437.7" stroke="#666" stroke-width="1.1" />
<line x1="349.1" y1="403.2" x2="352.5" y2="403.2" stroke="#666" stroke-width="1" />
<line x1="349.1" y1="437.7" x2="352.5" y2="437.7" stroke="#666" stroke-width="1" />
<rect x="357" y="417.9" width="12.699999999999989" height="140.1" fill="#000" stroke="#000" stroke-width="0.9"/>
<line x1="363.35" y1="409.2" x2="363.35" y2="418.0" stroke="#666" stroke-width="1.1" />
<line x1="361.65000000000003" y1="409.2" x2="365.05" y2="409.2" stroke="#666" stroke-width="1" />
<rect x="388" y="441.59999999999997" width="12.899999999999977" height="116.4" fill="url(#hstripe)" stroke="#333" stroke-width="0.9"/>
<line x1="394.45" y1="421.9" x2="394.45" y2="460.2" stroke="#666" stroke-width="1.1" />
<line x1="392.75" y1="421.9" x2="396.15" y2="421.9" stroke="#666" stroke-width="1" />
<line x1="392.75" y1="460.2" x2="396.15" y2="460.2" stroke="#666" stroke-width="1" />
<rect x="400.9" y="447.09999999999997" width="12.900000000000034" height="110.9" fill="url(#diag)" stroke="#333" stroke-width="0.9"/>
<line x1="407.35" y1="424.1" x2="407.35" y2="468" stroke="#666" stroke-width="1.1" />
<line x1="405.65000000000003" y1="424.1" x2="409.05" y2="424.1" stroke="#666" stroke-width="1" />
<line x1="405.65000000000003" y1="468" x2="409.05" y2="468" stroke="#666" stroke-width="1" />
<rect x="413.8" y="455.79999999999995" width="12.199999999999989" height="102.20000000000002" fill="url(#xhatch)" stroke="#333" stroke-width="0.9"/>
<line x1="419.9" y1="431.5" x2="419.9" y2="477.9" stroke="#666" stroke-width="1.1" />
<line x1="418.2" y1="431.5" x2="421.59999999999997" y2="431.5" stroke="#666" stroke-width="1" />
<line x1="418.2" y1="477.9" x2="421.59999999999997" y2="477.9" stroke="#666" stroke-width="1" />
<rect x="426" y="455.79999999999995" width="12.600000000000023" height="102.20000000000002" fill="#000" stroke="#000" stroke-width="0.9"/>
<line x1="432.3" y1="431.5" x2="432.3" y2="455.9" stroke="#666" stroke-width="1.1" />
<line x1="430.6" y1="431.5" x2="434.0" y2="431.5" stroke="#666" stroke-width="1" />
<rect x="457.2" y="464.79999999999995" width="12.900000000000034" height="93.20000000000002" fill="url(#hstripe)" stroke="#333" stroke-width="0.9"/>
<line x1="463.65" y1="431.5" x2="463.65" y2="497.2" stroke="#666" stroke-width="1.1" />
<line x1="461.95" y1="431.5" x2="465.34999999999997" y2="431.5" stroke="#666" stroke-width="1" />
<line x1="461.95" y1="497.2" x2="465.34999999999997" y2="497.2" stroke="#666" stroke-width="1" />
<rect x="470.1" y="464.79999999999995" width="12.899999999999977" height="93.20000000000002" fill="url(#diag)" stroke="#333" stroke-width="0.9"/>
<line x1="476.55" y1="432.8" x2="476.55" y2="497" stroke="#666" stroke-width="1.1" />
<line x1="474.85" y1="432.8" x2="478.25" y2="432.8" stroke="#666" stroke-width="1" />
<line x1="474.85" y1="497" x2="478.25" y2="497" stroke="#666" stroke-width="1" />
<rect x="483" y="474.4" width="12.199999999999989" height="83.6" fill="url(#xhatch)" stroke="#333" stroke-width="0.9"/>
<line x1="489.1" y1="442.8" x2="489.1" y2="504.6" stroke="#666" stroke-width="1.1" />
<line x1="487.40000000000003" y1="442.8" x2="490.8" y2="442.8" stroke="#666" stroke-width="1" />
<line x1="487.40000000000003" y1="504.6" x2="490.8" y2="504.6" stroke="#666" stroke-width="1" />
<rect x="495.2" y="478.59999999999997" width="12.600000000000023" height="79.4" fill="#000" stroke="#000" stroke-width="0.9"/>
<line x1="501.5" y1="450.5" x2="501.5" y2="478.7" stroke="#666" stroke-width="1.1" />
<line x1="499.8" y1="450.5" x2="503.2" y2="450.5" stroke="#666" stroke-width="1" />
<text x="338.6" y="572.6" style="font-family:'Liberation Serif',serif;font-weight:bold;font-size:10.6px" text-anchor="middle" fill="#000" >24</text>
<text x="408.0" y="572.6" style="font-family:'Liberation Serif',serif;font-weight:bold;font-size:10.6px" text-anchor="middle" fill="#000" >48</text>
<text x="475.9" y="572.6" style="font-family:'Liberation Serif',serif;font-weight:bold;font-size:10.6px" text-anchor="middle" fill="#000" >72</text>
<text x="373.1" y="587.2" style="font-family:'Liberation Serif',serif;font-weight:bold;font-size:10.6px" text-anchor="start" fill="#000" >Time in hours</text>
<rect x="455.9" y="365.5" width="7.4" height="6.3" fill="url(#hstripe)" stroke="#777" stroke-width="1" />
<text x="467.1" y="371.8" style="font-family:'Liberation Serif',serif;font-weight:bold;font-size:10.4px" text-anchor="start" fill="#000" word-spacing="-1">25 ng/mL</text>
<rect x="455.9" y="376.6" width="7.4" height="6.3" fill="url(#xhatch2)" stroke="#777" stroke-width="1" />
<text x="467.1" y="382.90000000000003" style="font-family:'Liberation Serif',serif;font-weight:bold;font-size:10.4px" text-anchor="start" fill="#000" word-spacing="-1">50 ng/mL</text>
<rect x="455.9" y="387.7" width="7.4" height="6.3" fill="#bbb" stroke="#777" stroke-width="1" />
<text x="467.1" y="394.0" style="font-family:'Liberation Serif',serif;font-weight:bold;font-size:10.4px" text-anchor="start" fill="#000" word-spacing="0">100 ng/mL</text>
<rect x="455.9" y="398.8" width="7.4" height="6.3" fill="#000" stroke="#000" stroke-width="1" />
<text x="467.1" y="405.1" style="font-family:'Liberation Serif',serif;font-weight:bold;font-size:10.4px" text-anchor="start" fill="#000" word-spacing="-1">200 ng/mL</text>
<text transform="translate(276.8,471.01) rotate(-90)" style="font-family:'Liberation Serif',serif;font-weight:bold;font-size:10.5px;letter-spacing:0.417px" text-anchor="middle">% Viable cells</text>
<text transform="translate(288.2,469.66) rotate(-90)" style="font-family:'Liberation Serif',serif;font-weight:bold;font-size:10.8px;letter-spacing:0.311px" text-anchor="middle">(normalized to media )</text>
</svg>
</body></html>
